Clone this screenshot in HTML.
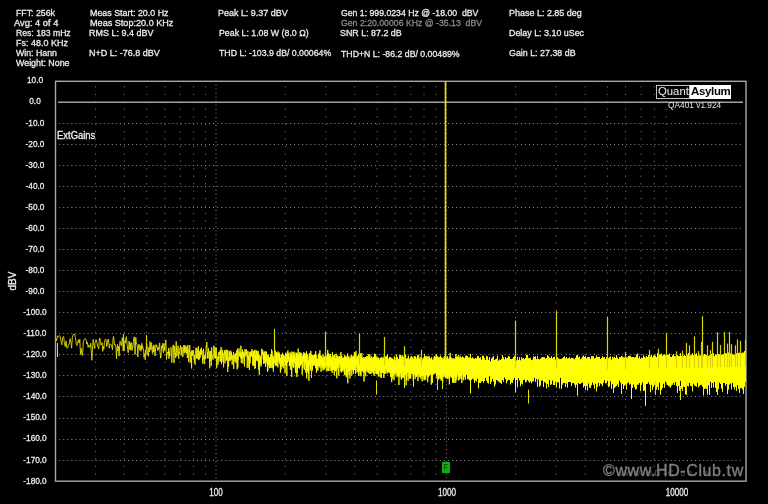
<!DOCTYPE html>
<html><head><meta charset="utf-8">
<style>
html,body{margin:0;padding:0;background:#000;}
body{width:768px;height:504px;position:relative;overflow:hidden;font-family:"Liberation Sans",Arial,sans-serif;}
.t{position:absolute;transform-origin:0 0;font-size:9.4px;line-height:10px;color:#ececec;white-space:pre;-webkit-text-stroke:0.3px #ececec;}
.g2{color:#8a8a8a;-webkit-text-stroke:0.3px #8a8a8a;}
.yl{position:absolute;font-size:9.5px;line-height:10px;color:#ececec;-webkit-text-stroke:0.3px #ececec;width:40px;text-align:center;left:15.3px;transform:scaleX(0.87);transform-origin:50% 0;white-space:pre;}
.xl{position:absolute;font-size:10px;line-height:10px;color:#ececec;-webkit-text-stroke:0.3px #ececec;width:60px;text-align:center;top:487.8px;transform:scaleX(0.81);transform-origin:50% 0;white-space:pre;}
svg{position:absolute;left:0;top:0;}
.hd{stroke:#8c8c8c;stroke-width:1;stroke-dasharray:1 3.05;}
.vd{stroke:#8c8c8c;stroke-width:1;stroke-dasharray:1 3.05;}
.vm{stroke:#6a6a6a;stroke-width:1;stroke-dasharray:1.3 6.14;}
</style></head><body>
<svg width="768" height="504" viewBox="0 0 768 504">
<g>
<line x1="59.2" y1="123.5" x2="742" y2="123.5" class="hd"/>
<line x1="59.2" y1="144.5" x2="742" y2="144.5" class="hd"/>
<line x1="59.2" y1="165.5" x2="742" y2="165.5" class="hd"/>
<line x1="59.2" y1="186.5" x2="742" y2="186.5" class="hd"/>
<line x1="59.2" y1="207.5" x2="742" y2="207.5" class="hd"/>
<line x1="59.2" y1="228.5" x2="742" y2="228.5" class="hd"/>
<line x1="59.2" y1="249.5" x2="742" y2="249.5" class="hd"/>
<line x1="59.2" y1="270.5" x2="742" y2="270.5" class="hd"/>
<line x1="59.2" y1="291.5" x2="742" y2="291.5" class="hd"/>
<line x1="59.2" y1="312.5" x2="742" y2="312.5" class="hd"/>
<line x1="59.2" y1="333.5" x2="742" y2="333.5" class="hd"/>
<line x1="59.2" y1="354.5" x2="742" y2="354.5" class="hd"/>
<line x1="59.2" y1="375.5" x2="742" y2="375.5" class="hd"/>
<line x1="59.2" y1="396.5" x2="742" y2="396.5" class="hd"/>
<line x1="59.2" y1="418.5" x2="742" y2="418.5" class="hd"/>
<line x1="59.2" y1="439.5" x2="742" y2="439.5" class="hd"/>
<line x1="59.2" y1="460.5" x2="742" y2="460.5" class="hd"/>
<line x1="95.56" y1="86.33" x2="95.56" y2="476" class="vm"/>
<line x1="124.34" y1="86.33" x2="124.34" y2="476" class="vm"/>
<line x1="146.66" y1="86.33" x2="146.66" y2="476" class="vm"/>
<line x1="164.9" y1="86.33" x2="164.9" y2="476" class="vm"/>
<line x1="180.32" y1="86.33" x2="180.32" y2="476" class="vm"/>
<line x1="193.67" y1="86.33" x2="193.67" y2="476" class="vm"/>
<line x1="205.46" y1="86.33" x2="205.46" y2="476" class="vm"/>
<line x1="216.0" y1="84.5" x2="216.0" y2="479" class="vd"/>
<line x1="285.33" y1="86.33" x2="285.33" y2="476" class="vm"/>
<line x1="325.89" y1="86.33" x2="325.89" y2="476" class="vm"/>
<line x1="354.67" y1="86.33" x2="354.67" y2="476" class="vm"/>
<line x1="376.99" y1="86.33" x2="376.99" y2="476" class="vm"/>
<line x1="395.23" y1="86.33" x2="395.23" y2="476" class="vm"/>
<line x1="410.65" y1="86.33" x2="410.65" y2="476" class="vm"/>
<line x1="424.01" y1="86.33" x2="424.01" y2="476" class="vm"/>
<line x1="435.79" y1="86.33" x2="435.79" y2="476" class="vm"/>
<line x1="446.33" y1="84.5" x2="446.33" y2="479" class="vd"/>
<line x1="515.67" y1="86.33" x2="515.67" y2="476" class="vm"/>
<line x1="556.23" y1="86.33" x2="556.23" y2="476" class="vm"/>
<line x1="585.0" y1="86.33" x2="585.0" y2="476" class="vm"/>
<line x1="607.33" y1="86.33" x2="607.33" y2="476" class="vm"/>
<line x1="625.56" y1="86.33" x2="625.56" y2="476" class="vm"/>
<line x1="640.98" y1="86.33" x2="640.98" y2="476" class="vm"/>
<line x1="654.34" y1="86.33" x2="654.34" y2="476" class="vm"/>
<line x1="666.12" y1="86.33" x2="666.12" y2="476" class="vm"/>
</g>
<rect x="55.5" y="81.3" width="690.5" height="399.9" fill="none" stroke="#a8a8a8" stroke-width="1.4"/>
<line x1="58" y1="102.3" x2="743" y2="102.3" stroke="#a0a0a0" stroke-width="1.4"/>
<defs><filter id="bl" x="-5%" y="-5%" width="110%" height="110%"><feGaussianBlur stdDeviation="0.32"/></filter></defs>
<g stroke="#e8e000" stroke-width="1" fill="none" filter="url(#bl)">
<linearGradient id="ng" gradientUnits="userSpaceOnUse" x1="55" y1="0" x2="300" y2="0"><stop offset="0" stop-color="#dcd400"/><stop offset="1" stop-color="#ffff00"/></linearGradient>
<path d="M55.7 337.6L56.6 340.7L57.5 336.0L58.4 336.8L59.3 335.5L60.2 336.5L61.0 341.3L61.9 344.8L62.7 337.7L63.6 336.4L64.4 342.8L65.2 346.7L66.1 340.9L66.9 348.3L67.7 347.8L68.5 345.0L69.3 343.9L70.1 338.6L70.9 342.3L71.6 348.2L72.4 337.1L73.2 334.6L73.9 334.4L74.7 334.0L75.4 337.6L76.2 343.3L76.9 345.5L77.7 342.2L78.4 339.8L79.1 343.1L79.8 339.2L80.5 354.4L81.2 348.4L82.0 355.0L82.6 355.5L83.3 341.3L84.0 339.6L84.7 339.1L85.4 338.5L86.1 339.7L86.7 344.1L87.4 342.3L88.1 347.4L88.7 345.1L89.4 345.7L90.0 347.4L90.7 343.1L91.3 352.2L91.9 360.3L92.6 346.1L93.2 339.4L93.8 343.2L94.4 348.5L95.0 343.4L95.7 341.2L96.3 339.8L96.9 342.3L97.5 346.2L98.1 347.0L98.7 348.8L99.3 340.0L99.8 338.0L100.4 342.3L101.0 345.2L101.6 344.4L102.2 342.6L102.7 351.3L103.3 346.5L103.9 349.2L104.4 342.6L105.0 340.3L105.5 339.0L106.1 340.3L106.6 346.7L107.2 344.9L107.7 340.8L108.2 339.0L108.8 342.8L109.3 348.1L109.8 344.4L110.4 344.3L110.9 344.3L111.4 344.9L111.9 346.9L112.5 349.9L113.0 338.9L113.5 336.4L114.0 339.6L114.5 345.1L115.0 344.3L115.5 345.4L116.0 349.4L116.5 358.8L117.0 348.3L117.5 344.3L118.0 351.2L118.5 346.5L119.0 356.1L119.4 351.4L119.9 341.4L120.4 341.6L120.9 343.7L121.3 345.5L121.8 342.8L122.3 337.5L122.7 341.3L123.2 351.1L123.7 344.4L124.1 350.8L124.6 344.3L125.0 340.7L125.5 343.1L125.9 338.3L126.4 336.7L126.8 341.1L127.3 345.6L127.7 349.7L128.2 352.6L128.6 348.1L129.1 341.1L129.5 344.6L129.9 349.5L130.4 343.4L130.8 350.1L131.2 342.4L131.6 343.3L132.1 350.5L132.5 346.8L132.9 347.4L133.3 342.5L133.7 339.1L134.2 336.8L134.6 341.5L135.0 354.5L135.4 346.5L135.8 337.5L136.2 343.6L136.6 343.4L137.0 344.4L137.4 347.0L137.8 357.0L138.2 348.3L138.6 345.9L139.0 344.2L139.4 347.3L139.8 350.2L140.2 345.5L140.6 345.8L141.0 351.2L141.4 349.4L141.8 343.2L142.1 348.9L142.5 345.9L142.9 347.8L143.3 348.7L143.7 351.4L144.0 357.4L144.4 354.1L144.8 353.8L145.2 359.9L145.5 350.0L145.9 354.5L146.3 347.3L146.6 343.8L147.0 345.3L147.4 352.6L147.7 354.5L148.1 353.4L148.4 356.4L148.8 347.3L149.2 350.0L149.5 352.0L149.9 341.5L150.2 343.0L150.6 347.4L150.9 349.9L151.3 344.3L151.6 342.7L152.0 349.7L152.3 352.2L152.7 353.5L153.0 346.5L153.4 351.9L153.7 345.0L154.0 344.8L154.4 346.3L154.7 353.2L155.1 356.0L155.4 352.9L155.7 347.8L156.1 344.6L156.4 346.6L156.7 345.3L157.1 347.4L157.4 348.2L157.7 350.5L158.0 347.2L158.4 349.0L158.7 349.6L159.0 348.8L159.3 344.7L159.7 342.9L160.0 352.0L160.3 354.3L160.6 358.1L160.9 358.1L161.3 351.3L161.6 346.9L161.9 345.6L162.2 347.0L162.5 348.3L162.8 343.3L163.1 351.6L163.5 352.8L163.8 347.7L164.1 343.4L164.4 346.7L164.7 350.6L165.0 346.8L165.3 345.5L165.6 342.4L165.9 340.0L166.2 349.1L166.5 359.4L166.8 356.4L167.1 354.2L167.4 352.9L167.7 351.9L168.0 352.7L168.3 354.4L168.6 348.2L168.9 358.7L169.2 353.5L169.5 351.8L169.8 356.2L170.0 348.6L170.3 348.3L170.6 348.3L170.9 347.3L171.2 349.1L171.5 353.6L171.8 362.6L172.1 355.5L172.3 348.0L172.6 347.6L172.9 346.5L173.2 344.9L173.5 348.5L173.7 352.5L174.0 363.1L174.3 345.9L174.6 347.2L174.9 353.2L175.1 353.9L175.4 353.0L175.7 358.0L176.0 345.4L176.2 341.3L176.5 347.9L176.8 356.2L177.0 354.2L177.3 352.3L177.6 350.5L177.9 348.8L178.1 345.7L178.4 351.6L178.7 358.7L178.9 352.4L179.2 352.6L179.5 353.6L179.7 350.8L180.0 348.4L180.2 349.3L180.5 345.5L180.8 346.0L181.0 352.2L181.3 355.4L181.5 350.0L181.8 347.2L182.1 347.0L182.3 348.6L182.6 349.7L182.8 357.0L183.1 353.9L183.3 351.0L183.6 347.7L183.8 345.0L184.1 347.6L184.3 353.2L184.6 347.4L184.8 345.0L185.1 352.7L185.3 351.4L185.6 346.6L185.8 348.2L186.1 349.2L186.3 351.9L186.6 353.6L186.8 346.4L187.1 348.9L187.3 357.9L187.6 354.6L187.8 345.0L188.0 347.5L188.3 352.7L188.5 361.7L188.8 357.6L189.0 352.5L189.2 349.6L189.5 352.3L189.7 345.1L190.0 352.9L190.2 362.8L190.4 356.5L190.7 355.9L190.9 352.0L191.1 360.6L191.4 358.0L191.6 368.4L191.8 350.6L192.1 355.8L192.3 350.5L192.5 355.7L192.8 354.5L193.0 354.1L193.2 354.0L193.5 350.2L193.7 352.5L193.9 357.6L194.2 360.3L194.4 355.2L194.6 361.9L194.8 361.1L195.1 364.8L195.3 359.4L195.5 352.9L195.7 351.0L196.0 347.6L196.2 347.7L196.4 353.3L196.6 358.4L196.9 348.3L197.1 350.5L197.3 349.8L197.5 352.8L197.7 358.9L198.0 354.5L198.2 347.7L198.4 346.3L198.6 360.1L198.8 357.8L199.0 350.7L199.3 359.4L199.5 355.4L199.7 355.9L199.9 351.7L200.1 356.4L200.3 357.5L200.6 349.1L200.8 351.1L201.0 354.8L201.2 352.6L201.4 347.7L201.6 353.7L201.8 353.0L202.0 350.2L202.2 351.5L202.5 361.1L202.7 363.6L202.9 357.1L203.1 359.4L203.3 354.0L203.5 348.9L203.7 352.1L203.9 359.0L204.1 355.0L204.3 364.1L204.5 357.4L204.7 358.4L204.9 356.2L205.1 359.3L205.4 359.3L205.6 352.1L205.8 351.3L206.0 351.2L206.2 346.8L206.4 345.3L206.6 346.8L206.8 342.1L207.0 347.5L207.2 358.2L207.4 357.0L207.6 352.5L207.8 352.0L208.0 358.6L208.2 353.2L208.4 348.3L208.6 350.8L208.8 352.2L209.0 351.3L209.1 355.8L209.3 357.7L209.5 358.3L209.7 368.3L209.9 352.5L210.1 351.4L210.3 360.9L210.5 360.3L210.7 352.2L210.9 350.8L211.1 364.3L211.3 365.9L211.5 351.5L211.7 347.3L211.9 355.2L212.0 356.4L212.2 355.2L212.4 357.3L212.6 356.9L212.8 358.1L213.0 359.8L213.2 357.8L213.4 351.0L213.6 350.0L213.7 348.3L213.9 345.6L214.1 349.0L214.3 350.9L214.5 351.9L214.7 357.9L214.9 351.0L215.1 347.4L215.2 353.8L215.4 358.7L215.6 355.2L215.8 353.5L216.0 354.1L216.2 347.6L216.3 348.9L216.5 358.6L216.7 367.8L216.9 363.7L217.1 359.8L217.2 357.4L217.4 356.4L217.6 356.6L217.8 357.6L218.0 364.8L218.1 357.6L218.3 356.1L218.5 359.5L218.7 353.7L218.9 354.8L219.0 352.1L219.2 353.9L219.4 351.7L219.6 352.9L219.7 353.2L219.9 353.8L220.1 361.8L220.3 350.2L220.5 353.6L220.6 360.7L220.8 360.1L221.0 355.1L221.1 346.9L221.3 349.7L221.5 364.1L221.7 357.2L221.8 358.9L222.0 361.8L222.2 358.7L222.4 349.9L222.5 351.7L222.7 356.5L222.9 354.0L223.0 357.9L223.2 357.4L223.4 357.4L223.6 367.4L223.7 355.8L223.9 353.6L224.1 352.7L224.2 354.2L224.4 350.2L224.6 355.1L224.7 358.0L224.9 363.3L225.1 362.5L225.2 361.4L225.4 352.8L225.6 352.0L225.7 350.4L225.9 356.1L226.1 358.9L226.2 360.6L226.4 360.4L226.6 349.6L226.7 350.2L226.9 360.3L227.1 351.1L227.2 351.1L227.4 350.4L227.6 363.3L227.7 372.0L227.9 361.3L228.0 357.8L228.2 356.9L228.4 364.9L228.5 367.0L228.7 364.4L228.8 354.1L229.0 350.6L229.2 351.1L229.3 354.5L229.5 352.6L229.6 360.7L229.8 355.7L230.0 352.9L230.1 355.5L230.3 360.7L230.4 360.0L230.6 356.4L230.8 350.7L230.9 353.2L231.1 358.9L231.2 359.6L231.4 352.3L231.5 354.1L231.7 358.9L231.9 355.7L232.0 358.9L232.2 364.7L232.3 360.9L232.5 360.5L232.6 356.2L232.8 355.5L232.9 357.0L233.1 357.3L233.3 354.7L233.4 353.1L233.6 351.9L233.7 368.9L233.9 358.6L234.0 356.6L234.2 357.3L234.3 357.6L234.5 358.8L234.6 355.1L234.8 354.2L234.9 361.0L235.1 361.7L235.2 358.9L235.4 358.2L235.5 359.2L235.7 361.2L235.8 353.1L236.0 362.9L236.1 359.5L236.3 356.4L236.4 353.0L236.6 350.7L236.7 352.6L236.9 361.6L237.0 362.3L237.2 369.4L237.3 355.4L237.5 348.6L237.6 354.6L237.8 367.6L237.9 365.2L238.1 359.3L238.2 359.9L238.4 359.0L238.5 355.3L238.7 350.1L238.8 349.2L239.0 348.8L239.1 348.4L239.2 351.0L239.4 352.3L239.5 356.0L239.7 352.9L239.8 352.5L240.0 356.7L240.1 353.9L240.3 356.4L240.4 354.5L240.5 358.2L240.7 350.3L240.8 345.7L241.0 346.3L241.1 352.8L241.3 363.0L241.4 359.8L241.5 352.5L241.7 352.1L241.8 358.3L242.0 358.9L242.1 353.5L242.2 353.5L242.4 353.8L242.5 349.6L242.7 354.7L242.8 363.2L242.9 363.7L243.1 351.6L243.2 357.6L243.4 357.7L243.5 353.9L243.6 353.8L243.8 352.1L243.9 352.1L244.1 355.9L244.2 353.1L244.3 355.2L244.5 366.5L244.6 361.5L244.7 356.9L244.9 350.8L245.0 349.2L245.2 350.9L245.3 350.4L245.4 352.1L245.6 354.1L245.7 351.4L245.8 356.7L246.0 355.8L246.1 352.3L246.2 351.0L246.4 349.1L246.5 349.4L246.7 349.8L246.8 353.7L246.9 351.5L247.1 356.6L247.2 367.9L247.3 359.9L247.5 354.6L247.6 355.8L247.7 357.9L247.9 351.2L248.0 351.0L248.1 355.0L248.3 359.4L248.4 358.3L248.5 355.8L248.7 358.1L248.8 360.0L248.9 367.7L249.1 357.8L249.2 361.5L249.3 358.5L249.4 369.9L249.6 360.6L249.7 351.9L249.8 353.6L250.0 358.1L250.1 363.4L250.2 358.6L250.4 352.7L250.5 357.4L250.6 353.0L250.7 351.8L250.9 354.5L251.0 356.5L251.1 355.4L251.3 353.3L251.4 351.1L251.5 355.4L251.7 353.5L251.8 351.2L251.9 356.4L252.0 349.1L252.2 349.3L252.3 350.8L252.4 353.5L252.5 357.9L252.7 355.9L252.8 354.4L252.9 365.9L253.1 358.0L253.2 364.8L253.3 359.9L253.4 355.6L253.6 351.1L253.7 353.7L253.8 365.5L253.9 363.0L254.1 359.4L254.2 352.9L254.3 353.6L254.4 350.3L254.6 353.8L254.7 359.3L254.8 368.9L254.9 359.9L255.1 349.8L255.2 356.2L255.3 354.7L255.4 355.5L255.5 368.0L255.7 355.3L255.8 356.7L255.9 360.5L256.0 355.8L256.2 358.2L256.3 356.1L256.4 350.4L256.5 355.6L256.7 359.9L256.8 355.8L256.9 357.6L257.0 360.8L257.1 360.4L257.3 355.3L257.4 351.9L257.5 351.4L257.6 355.0L257.7 360.6L257.9 361.2L258.0 354.9L258.1 354.1L258.2 350.9L258.3 359.4L258.5 369.6L258.6 356.6L258.7 356.1L258.8 356.9L258.9 360.4L259.1 354.5L259.2 360.1L259.3 374.8L259.4 360.1L259.5 365.4L259.7 366.6L259.8 361.1L259.9 360.3L260.0 359.0L260.1 357.4L260.2 355.7L260.4 357.1L260.5 357.6L260.6 359.2L260.7 362.9L260.8 357.8L261.0 359.4L261.1 366.4L261.2 362.6L261.3 364.2L261.4 358.2L261.5 356.0L261.7 351.1L261.8 348.7L261.9 352.7L262.0 351.9L262.1 354.9L262.2 353.1L262.3 350.5L262.5 353.9L262.6 352.9L262.7 352.0L262.8 350.2L262.9 354.5L263.0 353.9L263.1 359.2L263.3 357.3L263.4 352.5L263.5 356.7L263.6 363.8L263.7 358.6L263.8 355.6L263.9 360.2L264.1 360.8L264.2 357.8L264.3 355.6L264.4 355.9L264.5 363.0L264.6 357.5L264.7 351.4L264.8 363.3L265.0 361.3L265.1 355.0L265.2 357.9L265.3 358.3L265.4 357.9L265.5 367.0L265.6 351.8L265.7 351.4L265.9 352.5L266.0 357.5L266.1 363.4L266.2 357.8L266.3 354.7L266.4 351.8L266.5 357.8L266.6 361.1L266.7 358.6L266.9 360.6L267.0 354.5L267.1 355.6L267.2 357.9L267.3 364.8L267.4 368.8L267.5 371.8L267.6 369.1L267.7 358.7L267.8 368.8L267.9 370.5L268.1 354.4L268.2 358.4L268.3 364.2L268.4 355.3L268.5 360.1L268.6 357.7L268.7 365.6L268.8 360.5L268.9 358.0L269.0 358.3L269.1 358.6L269.2 359.6L269.4 364.4L269.5 357.5L269.6 360.8L269.7 368.1L269.8 363.9L269.9 358.7L270.0 357.3L270.1 359.0L270.2 364.3L270.3 360.4L270.4 360.3L270.5 354.7L270.6 357.5L270.7 367.8L270.8 360.5L271.0 357.8L271.1 367.7L271.2 355.1L271.3 354.2L271.4 358.2L271.5 350.5L271.6 349.1L271.7 352.7L271.8 357.8L271.9 358.1L272.0 351.0L272.1 353.6L272.2 358.2L272.3 368.3L272.4 358.7L272.5 365.2L272.6 357.3L272.7 359.3L272.8 359.5L272.9 356.1L273.0 361.7L273.1 360.1L273.3 358.0L273.4 371.6L273.5 359.3L273.6 360.2L273.7 366.9L273.8 364.2L273.9 357.4L274.0 357.1L274.1 358.0L274.2 355.6L274.3 355.1L274.4 363.3L274.5 358.2L274.6 356.7L274.7 356.8L274.8 360.1L274.9 359.7L275.0 357.8L275.1 359.9L275.2 358.8L275.3 350.5L275.4 356.4L275.5 363.1L275.6 365.6L275.7 361.0L275.8 358.2L275.9 355.2L276.0 358.4L276.1 365.3L276.2 362.0L276.3 354.2L276.4 353.3L276.5 358.7L276.6 352.3L276.7 352.1L276.8 357.6L276.9 365.9L277.0 361.1L277.1 359.8L277.2 357.4L277.3 358.5L277.4 353.2L277.5 354.3L277.6 352.8L277.7 355.5L277.8 364.1L277.9 367.4L278.0 357.1L278.1 351.4L278.2 352.5L278.3 359.2L278.4 355.7L278.5 356.7L278.6 357.2L278.7 357.1L278.8 360.0L278.9 361.7L279.0 358.1L279.1 357.7L279.2 354.3L279.3 352.6L279.4 360.7L279.5 363.6L279.6 359.6L279.7 354.0L279.8 363.0L279.8 360.9L279.9 358.4L280.0 360.5L280.1 363.7L280.2 365.5L280.3 365.7L280.4 372.7L280.5 365.3L280.6 361.0L280.7 358.2L280.8 359.6L280.9 357.7L281.0 370.1L281.1 364.8L281.2 360.6L281.3 354.4L281.4 359.1L281.5 361.8L281.6 359.2L281.7 361.3L281.8 355.2L281.9 358.8L282.0 366.7L282.1 362.0L282.1 359.5L282.2 361.6L282.3 365.8L282.4 358.0L282.5 352.8L282.6 359.8L282.7 363.3L282.8 360.3L282.9 354.6L283.0 356.6L283.1 355.9L283.2 356.4L283.3 368.3L283.4 365.6L283.5 356.8L283.6 354.7L283.6 355.5L283.7 361.4L283.8 358.9L283.9 357.3L284.0 358.4L284.1 358.8L284.2 355.7L284.3 356.8L284.4 361.4L284.5 360.1L284.6 361.5L284.7 361.6L284.8 359.1L284.8 356.9L284.9 364.5L285.0 373.3L285.1 363.6L285.2 365.7L285.3 365.3L285.4 360.4L285.5 362.9L285.6 357.3L285.7 352.8L285.8 356.0L285.9 364.8L285.9 356.4L286.0 354.4L286.1 356.0L286.2 354.8L286.3 356.6L286.4 366.0L286.5 364.8L286.6 361.0L286.7 363.6L286.8 370.6L286.9 375.8L286.9 361.2L287.0 360.0L287.1 359.2L287.2 358.0L287.3 351.8L287.4 352.3L287.5 362.8L287.6 362.2L287.7 359.9L287.8 361.2L287.8 351.2L287.9 350.5L288.0 354.5L288.1 354.7L288.2 359.2L288.3 353.5L288.4 353.4L288.5 356.6L288.6 359.1L288.6 355.5L288.7 358.0L288.8 359.6L288.9 361.4L289.0 358.7L289.1 358.5L289.2 358.4L289.3 359.6L289.3 366.0L289.4 363.9L289.5 360.6L289.6 358.6L289.7 357.2L289.8 359.0L289.9 365.8L290.0 358.5L290.0 352.3L290.1 354.0L290.2 357.7L290.3 367.9L290.4 369.7L290.5 363.7L290.6 353.9L290.7 363.4L290.7 359.6L290.8 360.9L290.9 356.8L291.0 353.5L291.1 357.1L291.2 358.2L291.3 363.6L291.4 359.1L291.4 355.9L291.5 358.7L291.6 365.6L291.7 376.9L291.8 361.5L291.9 351.5L292.0 353.2L292.0 357.7L292.1 359.9L292.2 361.3L292.3 360.1L292.4 358.1L292.5 359.6L292.6 361.7L292.6 360.3L292.7 356.8L292.8 358.8L292.9 366.5L293.0 357.7L293.1 355.2L293.1 352.2L293.2 354.6L293.3 367.5L293.4 360.8L293.5 364.1L293.6 356.6L293.7 354.1L293.7 365.1L293.8 367.6L293.9 355.3L294.0 351.7L294.1 354.6L294.2 355.8L294.2 356.9L294.3 359.2L294.4 359.9L294.5 362.6L294.6 354.8L294.7 360.2L294.7 358.9L294.8 359.4L294.9 361.6L295.0 359.3L295.1 357.4L295.2 360.2L295.2 364.2L295.3 365.8L295.4 370.5L295.5 362.3L295.6 372.9L295.7 361.3L295.7 364.9L295.8 359.6L295.9 364.5L296.0 361.7L296.1 352.5L296.2 360.8L296.2 357.7L296.3 353.1L296.4 360.3L296.5 365.4L296.6 366.8L296.6 361.9L296.7 354.2L296.8 363.9L296.9 376.9L297.0 366.3L297.1 359.5L297.1 368.5L297.2 372.6L297.3 369.7L297.4 369.2L297.5 359.4L297.5 373.1L297.6 361.2L297.7 353.4L297.8 358.3L297.9 364.9L297.9 360.8L298.0 354.7L298.1 351.5L298.2 348.6L298.3 353.2L298.3 359.8L298.4 363.5L298.5 363.7L298.6 356.9L298.7 367.7L298.7 363.7L298.8 355.5L298.9 360.4L299.0 363.8L299.1 358.6L299.1 361.7L299.2 360.5L299.3 366.1L299.4 368.3L299.5 368.5L299.5 360.4L299.6 357.0L299.7 363.4L299.8 354.4L299.9 352.2L299.9 356.9L300.0 353.0L300.1 365.6L300.2 357.9L300.3 353.5L300.3 360.6L300.4 358.8L300.5 357.6L300.6 365.6L300.7 363.7L300.7 357.7L300.8 359.8L300.9 357.3L301.0 357.1L301.0 357.1L301.1 362.7L301.2 354.9L301.3 353.9L301.4 352.9L301.4 355.7L301.5 362.2L301.6 363.0L301.7 363.7L301.7 362.7L301.8 361.5L301.9 363.7L302.0 361.3L302.1 362.5L302.1 363.1L302.2 374.6L302.3 364.1L302.4 363.8L302.4 359.2L302.5 359.4L302.6 355.5L302.7 356.8L302.7 357.8L302.8 360.1L302.9 367.7L303.0 366.1L303.1 361.5L303.1 358.8L303.2 358.4L303.3 357.8L303.4 361.2L303.4 356.7L303.5 357.1L303.6 357.0L303.7 359.1L303.7 353.0L303.8 352.2L303.9 357.0L304.0 358.4L304.0 354.2L304.1 355.6L304.2 361.1L304.3 369.9L304.4 363.7L304.4 359.8L304.5 353.4L304.6 357.2L304.7 357.1L304.7 360.2L304.8 363.8L304.9 357.8L305.0 361.6L305.0 361.5L305.1 356.2L305.2 353.2L305.3 356.2L305.3 357.0L305.4 355.7L305.5 358.3L305.6 359.0L305.6 360.4L305.7 359.6L305.8 356.2L305.9 356.7L305.9 372.7L306.0 361.4L306.1 365.0L306.2 358.1L306.2 354.9L306.3 356.9L306.4 356.4L306.5 351.3L306.5 351.4L306.6 361.2L306.7 378.5L306.7 364.3L306.8 365.0L306.9 366.4L307.0 372.2L307.0 366.9L307.1 361.9L307.2 356.4L307.3 362.2L307.3 366.6L307.4 362.0L307.5 362.9L307.6 370.9L307.6 364.8L307.7 360.5L307.8 354.0L307.9 360.2L307.9 363.3L308.0 363.8L308.1 364.9L308.1 365.4L308.2 360.2L308.3 361.7L308.4 364.4L308.4 373.4L308.5 362.1L308.6 362.9L308.7 365.6L308.7 360.4L308.8 365.7L308.9 370.0L308.9 380.9L309.0 368.5L309.1 362.8L309.2 358.8L309.2 356.7L309.3 358.1L309.4 362.3L309.4 362.9L309.5 357.9L309.6 353.6L309.7 352.9L309.7 360.1L309.8 364.8L309.9 362.9L309.9 365.7L310.0 362.9L310.1 365.8L310.2 364.5L310.2 356.2L310.3 358.0L310.4 370.3L310.4 356.7L310.5 356.9L310.6 360.5L310.7 363.5L310.7 365.4L310.8 350.9L310.9 353.3L310.9 367.5L311.0 360.5L311.1 362.4L311.2 365.0L311.2 363.0L311.3 354.1L311.4 360.0L311.4 369.7L311.5 367.8L311.6 360.3L311.7 357.6L311.7 356.3L311.8 370.6L311.9 365.3L311.9 371.1L312.0 368.0L312.1 356.1L312.1 355.6L312.2 355.3L312.3 355.2L312.4 360.4L312.4 368.1L312.5 369.1L312.6 361.2L312.6 356.5L312.7 354.9L312.8 359.8L312.8 364.2L312.9 361.3L313.0 361.8L313.1 359.7L313.1 355.4L313.2 358.9L313.3 364.5L313.3 365.7L313.4 355.4L313.5 355.5L313.5 362.3L313.6 359.3L313.7 359.0L313.7 362.6L313.8 357.8L313.9 363.8L313.9 357.6L314.0 359.3L314.1 362.7L314.2 356.3L314.2 361.5L314.3 364.3L314.4 361.2L314.4 355.1L314.5 355.2L314.6 356.0L314.6 356.5L314.7 354.7L314.8 354.1L314.8 356.1L314.9 357.4L315.0 366.0L315.0 364.5L315.1 361.0L315.2 355.1L315.2 357.1L315.3 362.8L315.4 366.3L315.5 366.4L315.5 368.2L315.6 366.6L315.7 360.6L315.7 351.2L315.8 353.8L315.9 358.2L315.9 361.1L316.0 357.7L316.1 355.1L316.1 359.7L316.2 367.9L316.3 360.2L316.3 360.8L316.4 372.7L316.5 366.8L316.5 361.6L316.6 369.1L316.7 360.4L316.7 358.2L316.8 367.6L316.9 363.2L316.9 370.3L317.0 359.1L317.1 359.2L317.1 366.0L317.2 362.1L317.3 363.2L317.3 363.8L317.4 363.1L317.5 360.8L317.5 363.5L317.6 363.6L317.7 361.8L317.7 363.5L317.8 359.5L317.9 359.7L317.9 370.5L318.0 363.9L318.1 360.4L318.1 364.2L318.2 362.5L318.3 354.7L318.3 358.9L318.4 360.6L318.5 357.2L318.5 355.7L318.6 362.8L318.7 365.8L318.7 358.9L318.8 363.4L318.8 365.8L318.9 360.3L319.0 359.0L319.0 366.8L319.1 357.9L319.2 353.2L319.2 358.8L319.3 358.2L319.4 358.2L319.4 362.3L319.5 359.9L319.6 355.1L319.6 356.7L319.7 365.5L319.8 360.9L319.8 360.1L319.9 350.4L320.0 353.3L320.0 365.0L320.1 368.2L320.2 356.7L320.2 362.7L320.3 363.9L320.3 356.5L320.4 355.9L320.5 361.7L320.5 362.4L320.6 361.8L320.7 360.6L320.7 357.3L320.8 357.0L320.9 358.4L320.9 359.5L321.0 362.2L321.1 371.7L321.1 371.5L321.2 358.8L321.2 355.5L321.3 355.9L321.4 357.0L321.4 358.2L321.5 363.6L321.6 360.1L321.6 363.3L321.7 362.8L321.8 359.8L321.8 360.9L321.9 364.7L321.9 363.5L322.0 359.8L322.1 363.7L322.1 367.0L322.2 362.5L322.3 360.6L322.3 362.4L322.4 357.4L322.5 363.8L322.5 364.2L322.6 365.7L322.6 360.6L322.7 362.1L322.8 361.8L322.8 360.4L322.9 366.0L323.0 370.5L323.0 361.6L323.1 354.5L323.1 358.3L323.2 368.1L323.3 362.7L323.3 365.1L323.4 359.4L323.5 362.2L323.5 361.2L323.6 357.4L323.6 359.9L323.7 364.4L323.8 366.2L323.8 365.9L323.9 366.8L324.0 362.5L324.0 363.7L324.1 364.7L324.1 359.7L324.2 364.2L324.3 369.5L324.3 361.8L324.4 365.2L324.5 363.7L324.5 360.1L324.6 362.3L324.6 356.9L324.7 357.8L324.8 365.4L324.8 363.4L324.9 356.3L324.9 356.5L325.0 364.5L325.1 363.5L325.1 368.4L325.2 361.0L325.3 356.5L325.3 360.5L325.4 359.5L325.4 352.6L325.5 354.9L325.6 362.0L325.6 360.2L325.7 364.4L325.7 361.3L325.8 355.3L325.9 359.1L325.9 362.0L326.0 358.6L326.1 360.2L326.1 357.1L326.2 356.0L326.2 363.8L326.3 363.6L326.4 366.7L326.4 362.9L326.5 360.3L326.5 358.0L326.6 356.8L326.7 358.0L326.7 363.8L326.8 371.5L326.8 370.7L326.9 358.4L327.0 359.8L327.0 357.1L327.1 356.2L327.1 362.0L327.2 361.7L327.3 359.3L327.3 365.7L327.4 354.2L327.4 353.6L327.5 354.2L327.6 356.6L327.6 361.5L327.7 355.3L327.7 349.9L327.8 356.6L327.9 354.0L327.9 355.5L328.0 362.8L328.0 370.3L328.1 365.7L328.2 355.2L328.2 353.1L328.3 360.6L328.3 371.0L328.4 369.0L328.5 366.6L328.5 368.5L328.6 359.7L328.6 356.2L328.7 356.6L328.8 360.6L328.8 363.0L328.9 361.1L328.9 359.4L329.0 361.9L329.1 355.9L329.1 354.1L329.2 367.0L329.2 364.7L329.3 356.6L329.3 359.1L329.4 364.0L329.5 362.8L329.5 356.0L329.6 357.8L329.6 366.6L329.7 362.0L329.8 364.1L329.8 364.9L329.9 367.4L329.9 358.5L330.0 362.2L330.1 359.8L330.1 371.0L330.2 364.2L330.2 361.1L330.3 360.5L330.3 354.7L330.4 353.9L330.5 355.8L330.5 362.7L330.6 363.9L330.6 356.7L330.7 362.5L330.8 361.2L330.8 355.7L330.9 362.4L330.9 364.3L331.0 358.9L331.0 360.7L331.1 358.9L331.2 358.6L331.2 360.0L331.3 358.2L331.3 367.8L331.4 364.5L331.5 370.3L331.5 368.1L331.6 363.8L331.6 363.7L331.7 365.8L331.7 363.7L331.8 364.2L331.9 357.8L331.9 361.2L332.0 364.5L332.0 365.8L332.1 372.8L332.1 361.2L332.2 369.8L332.3 361.5L332.3 363.1L332.4 366.1L332.4 360.8L332.5 352.3L332.5 355.1L332.6 359.0L332.7 359.8L332.7 361.0L332.8 362.5L332.8 361.8L332.9 357.3L332.9 357.5L333.0 362.5L333.1 364.4L333.1 364.6L333.2 370.1L333.2 366.3L333.3 361.8L333.3 365.3L333.4 368.9L333.5 367.1L333.5 363.6L333.6 364.1L333.6 363.2L333.7 366.5L333.7 364.5L333.8 360.7L333.8 355.4L333.9 356.3L334.0 357.5L334.0 359.9L334.1 358.6L334.1 358.4L334.2 362.8L334.2 369.3L334.3 375.2L334.4 365.7L334.4 357.5L334.5 366.4L334.5 366.1L334.6 360.6L334.6 362.4L334.7 357.9L334.7 354.5L334.8 359.5L334.9 370.1L334.9 360.8L335.0 360.7L335.0 365.7L335.1 369.0L335.1 362.6L335.2 361.2L335.2 364.1L335.3 364.5L335.4 358.5L335.4 361.2L335.5 360.3L335.5 371.3L335.6 367.3L335.6 360.1L335.7 358.4L335.7 366.7L335.8 361.8L335.9 367.2L335.9 362.6L336.0 365.0L336.0 365.6L336.1 360.3L336.1 358.3L336.2 353.7L336.2 363.2L336.3 367.3L336.4 364.8L336.4 368.2L336.5 367.0L336.5 361.4L336.6 361.5L336.6 363.2L336.7 366.8L336.7 371.9L336.8 378.3L336.8 377.7L336.9 361.2L337.0 360.0L337.0 369.6L337.1 357.7L337.1 362.3L337.2 366.0L337.2 357.1L337.3 357.3L337.3 355.6L337.4 355.5L337.4 362.9L337.5 364.0L337.6 357.7L337.6 361.9L337.7 362.1L337.7 363.7L337.8 364.7L337.8 358.6L337.9 367.7L337.9 365.4L338.0 356.6L338.0 358.9L338.1 361.8L338.2 363.9L338.2 363.0L338.3 359.8L338.3 367.8L338.4 358.1L338.4 359.1L338.5 363.5L338.5 363.1L338.6 362.7L338.6 360.5L338.7 370.9L338.7 370.0L338.8 375.6L338.9 364.2L338.9 360.5L339.0 362.8L339.0 356.6L339.1 357.3L339.1 359.2L339.2 361.4L339.2 363.7L339.3 360.1L339.3 358.7L339.4 357.7L339.4 358.1L339.5 356.9L339.5 356.1L339.6 356.4L339.7 360.3L339.7 357.0L339.8 357.1L339.8 358.0L339.9 358.6L339.9 361.7L340.0 365.1L340.0 367.6L340.1 367.1L340.1 365.7L340.2 360.1L340.2 364.1L340.3 362.8L340.3 363.7L340.4 359.0L340.4 359.8L340.5 364.6L340.6 363.4L340.6 363.8L340.7 365.3L340.7 364.7L340.8 361.4L340.8 357.4L340.9 352.0L340.9 352.3L341.0 364.6L341.0 370.5L341.1 370.8L341.1 363.1L341.2 363.8L341.2 371.9L341.3 359.0L341.3 357.3L341.4 361.6L341.4 372.4L341.5 369.9L341.6 369.6L341.6 361.9L341.7 364.8L341.7 362.1L341.8 367.8L341.8 360.0L341.9 355.7L341.9 359.3L342.0 358.6L342.0 361.8L342.1 358.5L342.1 366.2L342.2 363.6L342.2 369.9L342.3 367.0L342.3 364.0L342.4 367.9L342.4 371.3L342.5 364.3L342.5 359.9L342.6 363.5L342.6 361.6L342.7 360.2L342.7 361.6L342.8 358.1L342.8 363.9L342.9 361.8L342.9 359.2L343.0 368.1L343.1 360.1L343.1 360.9L343.2 358.2L343.2 361.3L343.3 368.9L343.3 368.1L343.4 366.0L343.4 364.9L343.5 358.4L343.5 360.2L343.6 366.6L343.6 369.7L343.7 364.0L343.7 366.3L343.8 360.6L343.8 357.5L343.9 361.1L343.9 369.6L344.0 369.3L344.0 362.9L344.1 363.4L344.1 362.7L344.2 372.1L344.2 368.3L344.3 367.8L344.3 365.3L344.4 367.7L344.4 374.6L344.5 366.7L344.5 362.7L344.6 360.1L344.6 355.2L344.7 354.8L344.7 361.4L344.8 360.8L344.8 358.2L344.9 358.6L344.9 360.1L345.0 367.8L345.0 375.3L345.1 365.6L345.1 360.3L345.2 365.5L345.2 357.0L345.3 357.6L345.3 367.1L345.4 361.2L345.4 360.5L345.5 356.6L345.5 357.5L345.6 357.0L345.6 366.1L345.7 368.5L345.7 359.8L345.8 356.9L345.8 358.5L345.9 363.8L345.9 358.5L346.0 357.7L346.0 357.6L346.1 366.0L346.1 361.5L346.2 362.3L346.2 367.6L346.3 377.3L346.3 377.3L346.4 369.5L346.4 359.4L346.5 357.9L346.5 365.9L346.6 367.1L346.6 363.3L346.7 374.6L346.7 364.0L346.8 370.0L346.8 364.1L346.9 361.7L346.9 362.6L347.0 357.5L347.0 356.1L347.1 359.5L347.1 361.2L347.2 361.5L347.2 368.8L347.3 364.2L347.3 368.0L347.4 367.0L347.4 360.3L347.5 364.7L347.5 366.8L347.6 363.4L347.6 356.4L347.7 353.6L347.7 363.1L347.8 383.3L347.8 362.8L347.9 361.1L347.9 367.4L348.0 364.9L348.0 361.4L348.1 360.6L348.1 364.3L348.2 363.5L348.2 368.2L348.3 371.9L348.3 361.7L348.4 365.6L348.4 358.2L348.5 367.2L348.5 364.9L348.6 362.5L348.6 364.1L348.7 361.6L348.7 363.8L348.8 361.1L348.8 357.8L348.8 356.3L348.9 356.3L348.9 357.4L349.0 362.9L349.0 357.5L349.1 362.8L349.1 375.1L349.2 372.0L349.2 359.4L349.3 359.6L349.3 365.6L349.4 366.9L349.4 367.9L349.5 365.6L349.5 361.8L349.6 360.6L349.6 361.3L349.7 363.7L349.7 359.3L349.8 364.2L349.8 365.2L349.9 363.6L349.9 368.9L350.0 378.4L350.0 363.4L350.1 365.9L350.1 366.3L350.1 370.5L350.2 367.6L350.2 367.9L350.3 367.6L350.3 367.3L350.4 363.8L350.4 369.8L350.5 367.7L350.5 363.8L350.6 362.7L350.6 359.2L350.7 361.8L350.7 363.4L350.8 365.7L350.8 364.3L350.9 360.3L350.9 368.8L351.0 369.4L351.0 360.5L351.1 356.9L351.1 360.3L351.2 360.2L351.2 355.0L351.2 358.8L351.3 364.4L351.3 358.1L351.4 359.5L351.4 360.6L351.5 365.2L351.5 362.5L351.6 364.9L351.6 367.5L351.7 366.8L351.7 365.1L351.8 375.4L351.8 366.9L351.9 367.5L351.9 360.7L352.0 355.6L352.0 362.5L352.0 364.8L352.1 363.5L352.1 365.6L352.2 364.3L352.2 365.8L352.3 363.2L352.3 361.8L352.4 363.6L352.4 368.8L352.5 361.6L352.5 357.4L352.6 357.5L352.6 361.6L352.7 358.2L352.7 364.0L352.8 369.7L352.8 367.1L352.8 369.6L352.9 366.9L352.9 368.0L353.0 366.1L353.0 361.1L353.1 357.6L353.1 370.4L353.2 368.0L353.2 360.5L353.3 364.8L353.3 367.8L353.4 361.7L353.4 358.6L353.4 363.2L353.5 372.6L353.5 373.4L353.6 373.8L353.6 363.9L353.7 366.3L353.7 367.7L353.8 356.6L353.8 361.9L353.9 361.7L353.9 357.4L354.0 358.8L354.0 356.2L354.0 355.7L354.1 359.9L354.1 361.5L354.2 357.6L354.2 360.1L354.3 365.7L354.3 354.0L354.4 352.1L354.4 359.4L354.5 361.6L354.5 362.0L354.6 369.7L354.6 368.5L354.6 369.5L354.7 365.2L354.7 363.7L354.8 359.5L354.8 361.7L354.9 364.6L354.9 359.2L355.0 352.9L355.0 363.9L355.1 366.1L355.1 359.3L355.1 361.9L355.2 364.2L355.2 362.5L355.3 368.2L355.3 363.9L355.4 357.5L355.4 359.3L355.5 361.9L355.5 366.0L355.6 373.9L355.6 373.9L355.6 363.4L355.7 366.4L355.7 372.7L355.8 368.1L355.8 357.3L355.9 359.9L355.9 354.1L356.0 351.0L356.0 359.0L356.1 359.6L356.1 364.9L356.1 362.8L356.2 364.0L356.2 361.4L356.3 360.1L356.3 359.6L356.4 363.0L356.4 358.9L356.5 360.6L356.5 363.6L356.6 365.3L356.6 360.2L356.6 363.8L356.7 363.9L356.7 360.7L356.8 362.3L356.8 360.6L356.9 364.0L356.9 360.8L357.0 364.5L357.0 365.0L357.0 361.1L357.1 365.3L357.1 367.8L357.2 363.0L357.2 356.6L357.3 372.3L357.3 361.9L357.4 364.1L357.4 358.4L357.4 356.2L357.5 356.3L357.5 356.1L357.6 359.8L357.6 358.9L357.7 358.0L357.7 364.0L357.8 363.6L357.8 361.7L357.8 364.1L357.9 360.3L357.9 362.2L358.0 361.7L358.0 358.3L358.1 364.4L358.1 372.1L358.2 364.1L358.2 365.0L358.2 362.0L358.3 355.5L358.3 360.8L358.4 361.7L358.4 366.4L358.5 360.7L358.5 357.8L358.6 363.6L358.6 375.8L358.6 367.4L358.7 365.3L358.7 371.6L358.8 366.4L358.8 363.1L358.9 366.7L358.9 365.5L358.9 366.0L359.0 371.6L359.0 354.0L359.1 355.4L359.1 367.4L359.2 353.6L359.2 353.8L359.3 358.3L359.3 358.8L359.3 362.4L359.4 362.8L359.4 369.8L359.5 370.4L359.5 361.2L359.6 355.9L359.6 362.1L359.6 369.5L359.7 359.6L359.7 357.0L359.8 366.6L359.8 370.0L359.9 366.2L359.9 364.2L360.0 358.9L360.0 358.6L360.0 359.3L360.1 356.4L360.1 361.8L360.2 375.1L360.2 359.5L360.3 365.4L360.3 372.1L360.3 371.6L360.4 368.7L360.4 367.9L360.5 362.3L360.5 358.7L360.6 360.6L360.6 357.3L360.6 353.4L360.7 358.8L360.7 361.1L360.8 360.6L360.8 363.8L360.9 363.9L360.9 363.4L360.9 363.1L361.0 363.7L361.0 376.3L361.1 370.3L361.1 366.0L361.2 361.7L361.2 360.1L361.2 366.9L361.3 365.5L361.3 356.8L361.4 356.7L361.4 358.2L361.5 365.1L361.5 370.6L361.5 366.8L361.6 363.4L361.6 359.9L361.7 367.0L361.7 359.5L361.8 355.2L361.8 354.4L361.8 353.1L361.9 356.3L361.9 362.2L362.0 367.9L362.0 368.8L362.1 360.8L362.1 359.7L362.1 359.8L362.2 364.0L362.2 361.7L362.3 360.6L362.3 359.2L362.4 360.0L362.4 366.1L362.4 366.8L362.5 364.1L362.5 360.7L362.6 363.8L362.6 367.1L362.7 368.1L362.7 369.9L362.7 361.0L362.8 362.2L362.8 371.7L362.9 364.5L362.9 357.9L362.9 358.2L363.0 369.7L363.0 365.5L363.1 365.4L363.1 362.1L363.2 357.8L363.2 358.2L363.2 363.1L363.3 367.7L363.3 371.1L363.4 365.0L363.4 358.5L363.5 364.0L363.5 372.3L363.5 364.1L363.6 362.8L363.6 360.0L363.7 357.3L363.7 360.9L363.7 368.4L363.8 372.4L363.8 371.4L363.9 363.4L363.9 359.8L364.0 362.8L364.0 368.8L364.0 381.5L364.1 363.9L364.1 358.2L364.2 360.4L364.2 368.6L364.2 368.6L364.3 359.3L364.3 360.0L364.4 362.3L364.4 365.8L364.5 361.4L364.5 362.4L364.5 358.8L364.6 362.1L364.6 358.4L364.7 361.0L364.7 369.5L364.7 367.2L364.8 365.3L364.8 361.4L364.9 369.0L364.9 368.9L365.0 362.7L365.0 363.2L365.0 367.3L365.1 362.4L365.1 372.5L365.2 367.7L365.2 361.0L365.2 356.9L365.3 363.4L365.3 366.9L365.4 366.2L365.4 367.6L365.4 364.3L365.5 366.7L365.5 359.0L365.6 362.5L365.6 368.1L365.7 369.1L365.7 376.3L365.7 363.2L365.8 365.6L365.8 369.4L365.9 364.1L365.9 362.2L365.9 369.5L366.0 370.3L366.0 362.8L366.1 360.6L366.1 367.2L366.1 368.1L366.2 367.6L366.2 362.9L366.3 363.6L366.3 360.8L366.3 358.8L366.4 357.6L366.4 366.5L366.5 370.3L366.5 366.9L366.6 361.6L366.6 367.0L366.6 362.8L366.7 366.6L366.7 363.0L366.8 364.6L366.8 357.3L366.8 356.2L366.9 356.0L366.9 356.3L367.0 361.8L367.0 359.6L367.0 367.6L367.1 368.4L367.1 365.7L367.2 366.6L367.2 356.2L367.2 360.1L367.3 371.8L367.3 367.5L367.4 367.1L367.4 364.7L367.4 361.9L367.5 363.3L367.5 363.4L367.6 366.4L367.6 368.4L367.6 366.5L367.7 366.1L367.7 365.8L367.8 359.5L367.8 360.3L367.8 364.5L367.9 362.5L367.9 364.8L368.0 367.8L368.0 364.3L368.0 363.5L368.1 367.0L368.1 360.5L368.2 362.1L368.2 371.7L368.2 370.5L368.3 373.2L368.3 373.2L368.4 373.1L368.4 370.6L368.4 366.8L368.5 360.3L368.5 357.9L368.6 360.8L368.6 366.8L368.6 365.7L368.7 369.5L368.7 364.6L368.8 360.9L368.8 354.7L368.8 354.0L368.9 359.6L368.9 365.4L369.0 364.9L369.0 359.2L369.0 358.6L369.1 361.0L369.1 359.0L369.2 358.3L369.2 355.6L369.2 357.8L369.3 369.5L369.3 364.3L369.4 359.7L369.4 365.6L369.4 360.5L369.5 357.9L369.5 359.2L369.6 361.5L369.6 369.7L369.6 369.0L369.7 360.0L369.7 365.0L369.8 373.9L369.8 363.8L369.8 354.6L369.9 357.3L369.9 361.9L369.9 362.5L370.0 362.1L370.0 362.2L370.1 358.9L370.1 361.7L370.1 368.4L370.2 360.0L370.2 360.4L370.3 370.4L370.3 362.8L370.3 361.9L370.4 369.4L370.4 368.9L370.5 363.2L370.5 364.6L370.5 365.0L370.6 367.3L370.6 368.3L370.7 365.2L370.7 363.8L370.7 361.3L370.8 357.7L370.8 359.9L370.8 362.6L370.9 367.1L370.9 374.0L371.0 362.1L371.0 360.8L371.0 368.7L371.1 368.5L371.1 360.2L371.2 358.0L371.2 360.6L371.2 361.4L371.3 365.7L371.3 362.1L371.4 358.7L371.4 361.3L371.4 368.2L371.5 363.7L371.5 357.6L371.5 356.4L371.6 363.0L371.6 361.8L371.7 360.3L371.7 366.2L371.7 364.0L371.8 373.1L371.8 370.8L371.9 370.1L371.9 368.3L371.9 364.7L372.0 359.4L372.0 357.7L372.0 369.4L372.1 367.9L372.1 372.3L372.2 368.5L372.2 368.3L372.2 361.0L372.3 364.2L372.3 369.3L372.4 369.5L372.4 367.4L372.4 361.4L372.5 367.6L372.5 369.9L372.5 363.3L372.6 357.7L372.6 360.1L372.7 363.8L372.7 361.9L372.7 365.3L372.8 365.5L372.8 370.5L372.9 364.6L372.9 362.9L372.9 365.6L373.0 364.7L373.0 360.0L373.0 358.1L373.1 360.4L373.1 359.8L373.2 363.2L373.2 367.5L373.2 371.4L373.3 362.8L373.3 359.9L373.3 362.1L373.4 365.1L373.4 365.6L373.5 365.4L373.5 372.0L373.5 371.4L373.6 374.1L373.6 367.2L373.7 368.6L373.7 362.5L373.7 356.9L373.8 359.0L373.8 364.3L373.8 369.2L373.9 366.8L373.9 363.7L374.0 359.4L374.0 367.6L374.0 370.5L374.1 369.5L374.1 375.8L374.1 368.7L374.2 365.3L374.2 366.6L374.3 362.9L374.3 359.2L374.3 363.9L374.4 363.3L374.4 371.0L374.4 362.7L374.5 358.8L374.5 353.7L374.6 359.3L374.6 367.5L374.6 368.2L374.7 366.8L374.7 356.8L374.7 358.0L374.8 364.1L374.8 363.3L374.9 365.0L374.9 363.0L374.9 363.1L375.0 366.7L375.0 362.4L375.0 358.3L375.1 359.5L375.1 360.6L375.2 361.0L375.2 356.2L375.2 357.3L375.3 358.7L375.3 354.1L375.3 355.3L375.4 361.8L375.4 362.8L375.5 365.4L375.5 367.2L375.5 364.8L375.6 358.6L375.6 359.6L375.6 359.1L375.7 362.0L375.7 357.3L375.8 361.4L375.8 365.4L375.8 373.8L375.9 368.9L375.9 369.9L375.9 363.7L376.0 360.9L376.0 362.2L376.0 360.0L376.1 366.1L376.1 366.4L376.2 364.9L376.2 362.2L376.2 369.2L376.3 367.4L376.3 358.5L376.3 361.9L376.4 373.2L376.4 359.2L376.5 363.1L376.5 361.8L376.5 360.1L376.6 374.2L376.6 367.0L376.6 362.0L376.7 362.7L376.7 365.2L376.7 368.2L376.8 365.3L376.8 365.8L376.9 356.4L376.9 356.3L376.9 359.3L377.0 362.4L377.0 361.7L377.0 360.4L377.1 366.4L377.1 371.3L377.2 369.4L377.2 372.2L377.2 371.0L377.3 367.3L377.3 373.9L377.3 368.2L377.4 365.4L377.4 365.1L377.4 364.3L377.5 363.4L377.5 360.1L377.6 357.9L377.6 360.0L377.6 361.8L377.7 369.2L377.7 372.9L377.7 365.2L377.8 362.3L377.8 360.9L377.8 369.5L377.9 366.9L377.9 366.3L378.0 368.8L378.0 366.2L378.0 366.2L378.1 367.5L378.1 362.9L378.1 360.5L378.2 368.0L378.2 361.8L378.2 357.6L378.3 365.9L378.3 376.4L378.4 366.5L378.4 365.2L378.4 371.5L378.5 365.8L378.5 362.4L378.5 373.1L378.6 367.1L378.6 370.2L378.6 367.3L378.7 371.1L378.7 361.2L378.7 363.9L378.8 365.9L378.8 358.3L378.9 362.9L378.9 362.9L378.9 363.4L379.0 363.3L379.0 366.6L379.0 362.3L379.1 360.6L379.1 362.0L379.1 363.7L379.2 361.3L379.2 360.2L379.2 365.3L379.3 370.2L379.3 367.8L379.4 365.6L379.4 366.6L379.4 364.1L379.5 362.1L379.5 366.6L379.5 364.5L379.6 370.6L379.6 364.3L379.6 362.0L379.7 364.0L379.7 365.9L379.8 364.8L379.8 363.7L379.8 368.9L379.9 370.9L379.9 368.9L379.9 368.6L380.0 369.5L380.0 369.5L380.0 368.0L380.1 377.2L380.1 359.9L380.1 358.3L380.2 363.7L380.2 365.1L380.2 362.3L380.3 365.5L380.3 363.5L380.4 364.3L380.4 364.3L380.4 361.3L380.5 368.1L380.5 365.0L380.5 363.6L380.6 368.3L380.6 363.4L380.6 357.8L380.7 357.8L380.7 365.7L380.7 364.4L380.8 360.9L380.8 358.9L380.8 358.8L380.9 367.8L380.9 366.5L381.0 359.7L381.0 360.9L381.0 362.7L381.1 363.6L381.1 365.1L381.1 364.5L381.2 373.1L381.2 364.9L381.2 360.3L381.3 370.3L381.3 378.0L381.3 365.7L381.4 369.0L381.4 368.8L381.4 362.4L381.5 363.8L381.5 368.0L381.6 368.6L381.6 364.4L381.6 372.0L381.7 363.0L381.7 363.3L381.7 363.7L381.8 356.9L381.8 367.5L381.8 369.6L381.9 360.8L381.9 365.1L381.9 361.2L382.0 365.0L382.0 362.5L382.0 358.9L382.1 361.5L382.1 363.0L382.1 361.6L382.2 371.9L382.2 365.7L382.2 369.7L382.3 365.1L382.3 364.7L382.4 369.2L382.4 367.5L382.4 362.6L382.5 359.2L382.5 359.2L382.5 361.6L382.6 365.2L382.6 373.0L382.6 365.6L382.7 366.0L382.7 358.8L382.7 358.6L382.8 368.1L382.8 360.4L382.8 363.1L382.9 367.1L382.9 364.5L382.9 364.0L383.0 365.9L383.0 363.9L383.0 363.8L383.1 358.9L383.1 365.1L383.1 366.6L383.2 369.0L383.2 367.0L383.3 361.6L383.3 361.2L383.3 367.8L383.4 362.2L383.4 358.6L383.4 371.6L383.5 373.0L383.5 359.5L383.5 357.4L383.6 364.6L383.6 369.7L383.6 361.1L383.7 358.3L383.7 358.1L383.7 363.0L383.8 365.6L383.8 364.5L383.8 371.0L383.9 371.2L383.9 378.0L383.9 366.8L384.0 361.8L384.0 358.9L384.0 367.5L384.1 366.7L384.1 361.7L384.1 358.3L384.2 363.2L384.2 365.8L384.2 368.7L384.3 364.2L384.3 363.0L384.3 359.0L384.4 356.7L384.4 358.7L384.4 369.8L384.5 362.2L384.5 356.4L384.6 358.4L384.6 373.6L384.6 372.5L384.7 368.3L384.7 362.5L384.7 361.4L384.8 364.6L384.8 366.9L384.8 367.1L384.9 360.0L384.9 358.6L384.9 356.6L385.0 358.6L385.0 366.5L385.0 368.8L385.1 362.9L385.1 358.6L385.1 365.6L385.2 364.8L385.2 361.3L385.2 364.7L385.3 362.1L385.3 359.3L385.3 361.3L385.4 357.8L385.4 361.3L385.4 368.7L385.5 369.2L385.5 362.7L385.5 356.9L385.6 365.6L385.6 365.9L385.6 361.2L385.7 360.4L385.7 369.0L385.7 373.7L385.8 373.2L385.8 362.9L385.8 358.2L385.9 369.1L385.9 367.1L385.9 363.0L386.0 366.5L386.0 363.0L386.0 368.7L386.1 364.7L386.1 360.3L386.1 360.9L386.2 364.1L386.2 362.9L386.2 366.1L386.3 363.9L386.3 368.0L386.3 368.7L386.4 363.3L386.4 359.6L386.4 359.9L386.5 356.7L386.5 356.5L386.5 355.8L386.6 358.2L386.6 362.7L386.6 363.9L386.7 362.8L386.7 362.1L386.7 361.6L386.8 360.6L386.8 366.1L386.8 370.9L386.9 365.3L386.9 364.5L386.9 360.8L387.0 361.0L387.0 370.1L387.0 367.1L387.1 358.5L387.1 367.3L387.1 371.4L387.2 361.7L387.2 364.9L387.2 369.6L387.3 359.7L387.3 363.9L387.3 373.5L387.4 362.4L387.4 364.4L387.4 364.3L387.5 360.6L387.5 354.6L387.5 358.8L387.6 367.3L387.6 366.0L387.6 370.1L387.7 365.3L387.7 361.8L387.7 363.9L387.8 365.1L387.8 361.2L387.8 367.5L387.9 371.8L387.9 366.7L387.9 360.4L388.0 367.2L388.0 368.0L388.0 368.0L388.1 366.5L388.1 363.5L388.1 362.6L388.2 363.2L388.2 366.0L388.2 365.3L388.3 362.2L388.3 358.6L388.3 361.4L388.4 363.6L388.4 360.4L388.4 365.1L388.4 365.2L388.5 363.6L388.5 360.3L388.5 362.6L388.6 362.4L388.6 361.0L388.6 372.5L388.7 367.2L388.7 361.4L388.7 362.4L388.8 358.9L388.8 359.0L388.8 359.4L388.9 369.2L388.9 365.7L388.9 360.6L389.0 359.1L389.0 361.4L389.0 366.8L389.1 365.9L389.1 366.6L389.1 365.3L389.2 369.3L389.2 367.5L389.2 363.4L389.3 370.6L389.3 364.6L389.3 362.9L389.4 361.9L389.4 370.4L389.4 363.4L389.5 363.1L389.5 361.9L389.5 360.8L389.6 358.1L389.6 364.1L389.6 363.2L389.6 361.0L389.7 360.3L389.7 356.9L389.7 363.9L389.8 362.5L389.8 365.9L389.8 372.8L389.9 364.5L389.9 364.2L389.9 367.6L390.0 366.0L390.0 363.7L390.0 362.6L390.1 365.9L390.1 371.1L390.1 363.9L390.2 362.3L390.2 363.6L390.2 366.8L390.3 364.0L390.3 358.5L390.3 363.4L390.4 362.6L390.4 373.5L390.4 366.5L390.5 362.9L390.5 366.3L390.5 368.0L390.5 376.8L390.6 367.3L390.6 360.0L390.6 362.5L390.7 363.7L390.7 362.9L390.7 357.1L390.8 360.7L390.8 369.6L390.8 371.1L390.9 364.5L390.9 362.7L390.9 362.6L391.0 358.8L391.0 364.7L391.0 365.6L391.1 363.7L391.1 367.7L391.1 367.3L391.2 362.6L391.2 360.5L391.2 362.0L391.3 370.3L391.3 368.0L391.3 362.9L391.3 360.6L391.4 364.0L391.4 367.5L391.4 366.5L391.5 364.5L391.5 366.5L391.5 367.7L391.6 363.1L391.6 359.7L391.6 365.8L391.7 370.1L391.7 382.1L391.7 367.3L391.8 360.4L391.8 360.1L391.8 358.0L391.9 369.0L391.9 371.8L391.9 361.4L391.9 360.0L392.0 366.4L392.0 371.3L392.0 363.4L392.1 362.4L392.1 365.9L392.1 367.2L392.2 365.6L392.2 363.0L392.2 359.5L392.3 365.9L392.3 378.8L392.3 365.3L392.4 362.3L392.4 365.7L392.4 360.4L392.5 358.7L392.5 366.8L392.5 367.9L392.5 373.0L392.6 365.2L392.6 364.8L392.6 372.6L392.7 369.3L392.7 367.6L392.7 365.9L392.8 360.5L392.8 359.5L392.8 363.7L392.9 371.3L392.9 369.1L392.9 369.0L393.0 363.4L393.0 370.5L393.0 363.3L393.0 359.8L393.1 361.6L393.1 363.2L393.1 363.8L393.2 365.6L393.2 369.9L393.2 376.1L393.3 369.2L393.3 363.1L393.3 366.6L393.4 369.1L393.4 368.7L393.4 367.7L393.5 368.7L393.5 360.5L393.5 364.2L393.5 362.9L393.6 366.3L393.6 365.4L393.6 359.8L393.7 362.9L393.7 370.9L393.7 371.3L393.8 365.9L393.8 373.6L393.8 368.5L393.9 366.8L393.9 369.0L393.9 368.8L393.9 365.3L394.0 368.8L394.0 380.2L394.0 372.5L394.1 362.9L394.1 361.5L394.1 362.0L394.2 363.1L394.2 365.1L394.2 362.2L394.3 362.6L394.3 362.9L394.3 366.2L394.3 372.6L394.4 361.2L394.4 359.8L394.4 356.3L394.5 364.2L394.5 367.4L394.5 361.9L394.6 363.7L394.6 372.8L394.6 370.5L394.7 360.9L394.7 360.2L394.7 365.9L394.7 363.7L394.8 360.1L394.8 363.6L394.8 366.7L394.9 358.3L394.9 357.9L394.9 359.6L395.0 360.7L395.0 364.7L395.0 364.5L395.1 361.9L395.1 367.5L395.1 371.9L395.1 365.0L395.2 362.4L395.2 363.5L395.2 369.5L395.3 361.6L395.3 361.7L395.3 369.8L395.4 364.5L395.4 365.2L395.4 364.0L395.4 368.4L395.5 365.2L395.5 365.9L395.5 363.2L395.6 365.0L395.6 373.8L395.6 371.5L395.7 374.9L395.7 366.0L395.7 365.5L395.8 370.9L395.8 370.6L395.8 363.0L395.8 364.8L395.9 367.0L395.9 364.1L395.9 369.7L396.0 366.9L396.0 366.3L396.0 367.1L396.1 362.9L396.1 364.6L396.1 365.3L396.1 370.5L396.2 367.3L396.2 363.2L396.2 361.4L396.3 371.2L396.3 367.0L396.3 361.4L396.4 357.1L396.4 362.1L396.4 371.8L396.5 369.9L396.5 366.2L396.5 366.8L396.5 369.0L396.6 370.1L396.6 366.2L396.6 354.5L396.7 357.8L396.7 372.3L396.7 363.7L396.8 363.3L396.8 361.6L396.8 360.7L396.8 368.1L396.9 361.2L396.9 358.3L396.9 361.4L397.0 363.2L397.0 361.4L397.0 367.6L397.1 362.5L397.1 360.8L397.1 366.6L397.1 377.1L397.2 368.1L397.2 364.1L397.2 360.4L397.3 363.6L397.3 362.7L397.3 366.5L397.4 375.2L397.4 367.0L397.4 357.3L397.4 362.6L397.5 366.6L397.5 360.1L397.5 366.6L397.6 365.7L397.6 365.7L397.6 371.4L397.6 366.3L397.7 361.0L397.7 364.2L397.7 369.7L397.8 364.9L397.8 361.2L397.8 366.3L397.9 376.2L397.9 370.9L397.9 360.9L397.9 362.0L398.0 363.1L398.0 361.5L398.0 361.5L398.1 368.0L398.1 368.7L398.1 367.1L398.2 364.4L398.2 363.0L398.2 369.4L398.2 362.7L398.3 362.6L398.3 368.0L398.3 360.4L398.4 359.5L398.4 365.7L398.4 371.6L398.5 375.6L398.5 365.2L398.5 361.8L398.5 363.7L398.6 362.9L398.6 367.4L398.6 367.6L398.7 361.2L398.7 364.1L398.7 369.0L398.7 359.8L398.8 360.2L398.8 368.4L398.8 368.6L398.9 363.2L398.9 369.7L398.9 385.0L399.0 373.0L399.0 371.1L399.0 369.0L399.0 370.2L399.1 365.6L399.1 362.0L399.1 362.2L399.2 363.7L399.2 363.9L399.2 363.4L399.2 358.8L399.3 363.9L399.3 365.0L399.3 362.5L399.4 369.9L399.4 371.2L399.4 364.0L399.5 363.8L399.5 362.0L399.5 360.1L399.5 365.4L399.6 368.5L399.6 371.9L399.6 362.1L399.7 373.8L399.7 363.1L399.7 354.9L399.7 360.4L399.8 365.1L399.8 362.0L399.8 359.9L399.9 362.0L399.9 367.2L399.9 377.0L399.9 374.0L400.0 369.3L400.0 363.1L400.0 368.2L400.1 367.8L400.1 368.5L400.1 368.1L400.2 365.5L400.2 370.1L400.2 369.3L400.2 372.7L400.3 369.8L400.3 370.5L400.3 372.1L400.4 373.7L400.4 367.0L400.4 371.2L400.4 369.0L400.5 366.7L400.5 372.0L400.5 358.1L400.6 355.1L400.6 363.4L400.6 363.6L400.6 361.2L400.7 367.2L400.7 367.0L400.7 362.1L400.8 369.5L400.8 363.0L400.8 369.2L400.8 371.8L400.9 360.7L400.9 362.1L400.9 358.7L401.0 366.6L401.0 366.1L401.0 363.5L401.0 365.1L401.1 372.5L401.1 368.0L401.1 368.8L401.2 367.9L401.2 367.1L401.2 369.4L401.2 372.2L401.3 379.6L401.3 361.9L401.3 367.3L401.4 365.0L401.4 370.6L401.4 362.7L401.4 363.0L401.5 363.2L401.5 365.8L401.5 378.9L401.6 370.5L401.6 367.1L401.6 363.9L401.7 366.1L401.7 364.3L401.7 361.9L401.7 367.8L401.8 366.3L401.8 359.3L401.8 357.6L401.9 364.7L401.9 372.3L401.9 364.4L401.9 361.9L402.0 364.0L402.0 364.8L402.0 360.6L402.1 355.3L402.1 365.5L402.1 367.7L402.1 363.6L402.2 363.6L402.2 365.2L402.2 360.5L402.2 357.0L402.3 358.4L402.3 366.6L402.3 367.0L402.4 365.3L402.4 363.1L402.4 364.4L402.4 367.3L402.5 360.2L402.5 361.2L402.5 369.2L402.6 364.0L402.6 365.7L402.6 371.0L402.6 369.7L402.7 362.5L402.7 365.8L402.7 362.0L402.8 363.0L402.8 363.9L402.8 360.0L402.8 356.2L402.9 360.8L402.9 378.2L402.9 371.8L403.0 360.6L403.0 364.2L403.0 367.0L403.0 376.6L403.1 370.8L403.1 377.4L403.1 369.7L403.2 365.1L403.2 365.2L403.2 369.7L403.2 365.3L403.3 365.0L403.3 368.2L403.3 362.3L403.4 359.3L403.4 366.4L403.4 365.2L403.4 366.0L403.5 370.9L403.5 363.2L403.5 365.3L403.6 370.5L403.6 367.0L403.6 363.8L403.6 363.0L403.7 366.2L403.7 368.4L403.7 367.5L403.7 360.8L403.8 359.8L403.8 363.8L403.8 371.7L403.9 368.2L403.9 368.9L403.9 370.0L403.9 361.8L404.0 363.1L404.0 366.2L404.0 365.2L404.1 364.0L404.1 357.3L404.1 361.1L404.1 369.2L404.2 375.7L404.2 364.2L404.2 360.4L404.3 366.3L404.3 367.4L404.3 364.5L404.3 356.6L404.4 359.8L404.4 367.2L404.4 371.8L404.4 364.6L404.5 360.5L404.5 363.0L404.5 366.5L404.6 365.7L404.6 366.6L404.6 364.3L404.6 354.5L404.7 354.8L404.7 355.1L404.7 355.9L404.8 362.2L404.8 363.7L404.8 361.3L404.8 366.4L404.9 364.8L404.9 363.0L404.9 374.9L404.9 370.3L405.0 360.5L405.0 359.8L405.0 362.3L405.1 373.4L405.1 370.3L405.1 369.0L405.1 361.7L405.2 370.5L405.2 369.8L405.2 365.7L405.2 364.9L405.3 366.7L405.3 367.8L405.3 374.7L405.4 365.9L405.4 362.2L405.4 361.8L405.4 365.2L405.5 368.5L405.5 361.9L405.5 357.7L405.6 354.6L405.6 360.0L405.6 365.7L405.6 365.2L405.7 369.5L405.7 362.9L405.7 369.0L405.7 365.6L405.8 358.2L405.8 364.2L405.8 364.8L405.9 367.5L405.9 374.6L405.9 368.4L405.9 368.1L406.0 372.1L406.0 370.2L406.0 363.3L406.0 372.1L406.1 385.4L406.1 378.8L406.1 363.6L406.2 360.5L406.2 367.3L406.2 374.1L406.2 367.3L406.3 359.4L406.3 359.7L406.3 365.1L406.3 364.3L406.4 363.2L406.4 367.7L406.4 361.6L406.5 359.0L406.5 368.5L406.5 371.7L406.5 379.9L406.6 372.3L406.6 359.8L406.6 359.2L406.6 361.3L406.7 363.0L406.7 364.7L406.7 360.3L406.8 365.7L406.8 362.1L406.8 365.4L406.8 362.8L406.9 371.7L406.9 365.5L406.9 361.3L406.9 366.6L407.0 370.3L407.0 369.6L407.0 366.5L407.1 366.4L407.1 368.7L407.1 363.3L407.1 360.9L407.2 362.9L407.2 364.9L407.2 364.0L407.2 368.9L407.3 358.4L407.3 358.2L407.3 365.5L407.4 367.6L407.4 362.9L407.4 366.2L407.4 364.7L407.5 363.1L407.5 364.9L407.5 372.3L407.5 371.0L407.6 370.1L407.6 365.8L407.6 372.7L407.7 367.8L407.7 359.1L407.7 365.0L407.7 373.0L407.8 371.4L407.8 370.8L407.8 361.8L407.8 365.9L407.9 361.7L407.9 359.0L407.9 359.2L407.9 364.6L408.0 364.0L408.0 358.9L408.0 364.2L408.1 371.6L408.1 372.6L408.1 380.8L408.1 368.3L408.2 370.6L408.2 363.3L408.2 358.8L408.2 358.7L408.3 359.4L408.3 365.9L408.3 365.5L408.3 357.2L408.4 355.7L408.4 366.3L408.4 366.9L408.5 360.1L408.5 358.9L408.5 369.8L408.5 369.8L408.6 369.3L408.6 367.7L408.6 373.3L408.6 371.7L408.7 365.0L408.7 368.9L408.7 367.1L408.8 360.6L408.8 366.8L408.8 368.2L408.8 363.4L408.9 362.7L408.9 365.7L408.9 367.2L408.9 369.0L409.0 366.7L409.0 372.7L409.0 364.9L409.0 359.5L409.1 364.8L409.1 364.1L409.1 363.2L409.1 366.7L409.2 367.5L409.2 367.7L409.2 366.1L409.3 367.9L409.3 366.5L409.3 361.1L409.3 366.9L409.4 378.8L409.4 377.8L409.4 368.2L409.4 365.0L409.5 365.8L409.5 360.0L409.5 363.3L409.5 376.3L409.6 371.7L409.6 366.4L409.6 366.4L409.7 364.1L409.7 361.6L409.7 363.3L409.7 370.6L409.8 365.9L409.8 367.8L409.8 378.0L409.8 373.6L409.9 367.9L409.9 362.1L409.9 363.8L409.9 369.1L410.0 363.8L410.0 362.3L410.0 358.3L410.0 358.2L410.1 360.2L410.1 369.9L410.1 372.5L410.2 369.8L410.2 365.4L410.2 364.9L410.2 365.1L410.3 364.6L410.3 372.5L410.3 371.6L410.3 372.5L410.4 366.0L410.4 364.0L410.4 362.7L410.4 360.7L410.5 367.4L410.5 371.4L410.5 371.3L410.5 373.0L410.6 371.3L410.6 370.3L410.6 365.5L410.7 365.7L410.7 367.1L410.7 378.5L410.7 369.4L410.8 367.3L410.8 368.3L410.8 368.9L410.8 369.7L410.9 367.3L410.9 357.2L410.9 356.8L410.9 365.1L411.0 372.2L411.0 368.8L411.0 372.2L411.0 362.6L411.1 361.5L411.1 366.9L411.1 369.1L411.1 369.0L411.2 364.7L411.2 363.9L411.2 363.8L411.3 363.7L411.3 373.7L411.3 372.2L411.3 367.0L411.4 365.6L411.4 367.1L411.4 367.5L411.4 371.7L411.5 368.4L411.5 361.0L411.5 362.0L411.5 363.9L411.6 363.4L411.6 373.3L411.6 361.5L411.6 356.2L411.7 363.8L411.7 364.5L411.7 358.1L411.7 357.3L411.8 357.2L411.8 362.7L411.8 369.1L411.8 370.8L411.9 368.7L411.9 361.3L411.9 357.5L412.0 357.7L412.0 365.5L412.0 360.5L412.0 358.8L412.1 357.6L412.1 363.7L412.1 364.8L412.1 359.2L412.2 363.9L412.2 362.2L412.2 362.5L412.2 367.9L412.3 360.6L412.3 363.4L412.3 367.8L412.3 364.6L412.4 358.3L412.4 358.1L412.4 361.5L412.4 367.9L412.5 373.8L412.5 372.3L412.5 365.4L412.5 364.7L412.6 367.9L412.6 369.9L412.6 368.0L412.6 363.4L412.7 370.1L412.7 366.8L412.7 362.8L412.7 367.8L412.8 373.6L412.8 374.2L412.8 366.7L412.9 358.6L412.9 359.1L412.9 365.0L412.9 364.6L413.0 359.7L413.0 360.5L413.0 361.5L413.0 360.7L413.1 360.3L413.1 368.2L413.1 368.3L413.1 366.0L413.2 359.2L413.2 362.7L413.2 369.8L413.2 361.4L413.3 366.0L413.3 380.5L413.3 375.8L413.3 365.6L413.4 371.5L413.4 367.6L413.4 366.2L413.4 370.2L413.5 386.5L413.5 375.9L413.5 366.8L413.5 364.8L413.6 375.2L413.6 371.6L413.6 370.4L413.6 362.1L413.7 362.3L413.7 367.8L413.7 376.8L413.7 364.6L413.8 361.2L413.8 363.3L413.8 368.1L413.8 368.5L413.9 365.1L413.9 361.9L413.9 362.5L413.9 369.1L414.0 375.0L414.0 369.5L414.0 371.2L414.0 369.8L414.1 371.6L414.1 370.1L414.1 368.4L414.1 371.4L414.2 365.9L414.2 364.3L414.2 357.3L414.2 356.5L414.3 365.0L414.3 365.6L414.3 362.9L414.4 361.9L414.4 367.2L414.4 369.5L414.4 373.3L414.5 371.6L414.5 366.4L414.5 365.5L414.5 362.3L414.6 365.6L414.6 363.2L414.6 361.2L414.6 356.5L414.7 356.2L414.7 358.2L414.7 366.4L414.7 366.4L414.8 365.5L414.8 372.3L414.8 373.1L414.8 370.6L414.9 359.5L414.9 356.5L414.9 359.6L414.9 366.0L415.0 364.9L415.0 364.6L415.0 368.6L415.0 369.5L415.1 369.2L415.1 366.0L415.1 364.2L415.1 369.3L415.2 373.9L415.2 379.1L415.2 368.1L415.2 361.7L415.3 363.1L415.3 359.8L415.3 364.5L415.3 373.5L415.4 373.3L415.4 369.2L415.4 363.0L415.4 356.7L415.5 360.0L415.5 360.2L415.5 361.8L415.5 366.6L415.6 365.8L415.6 365.6L415.6 363.5L415.6 361.5L415.7 368.0L415.7 370.7L415.7 367.4L415.7 362.6L415.8 361.4L415.8 362.7L415.8 359.3L415.8 357.3L415.9 363.1L415.9 374.8L415.9 364.8L415.9 367.3L416.0 364.3L416.0 363.9L416.0 369.0L416.0 367.2L416.1 361.5L416.1 369.0L416.1 374.1L416.1 375.2L416.2 368.3L416.2 367.8L416.2 376.7L416.2 366.6L416.2 362.9L416.3 362.5L416.3 364.5L416.3 363.4L416.3 376.7L416.4 367.3L416.4 366.8L416.4 365.5L416.4 364.6L416.5 369.9L416.5 362.3L416.5 359.6L416.5 364.6L416.6 365.6L416.6 364.5L416.6 366.8L416.6 373.2L416.7 368.8L416.7 372.0L416.7 371.9L416.7 364.0L416.8 364.8L416.8 361.6L416.8 361.4L416.8 368.6L416.9 367.3L416.9 366.8L416.9 365.3L416.9 361.9L417.0 361.6L417.0 359.8L417.0 358.5L417.0 362.0L417.1 366.8L417.1 373.5L417.1 370.4L417.1 367.6L417.2 363.5L417.2 364.6L417.2 369.9L417.2 371.0L417.3 361.8L417.3 362.0L417.3 363.1L417.3 364.0L417.4 365.8L417.4 372.5L417.4 371.3L417.4 370.9L417.5 370.5L417.5 362.6L417.5 358.3L417.5 375.6L417.6 364.2L417.6 359.3L417.6 355.2L417.6 356.0L417.6 362.0L417.7 365.1L417.7 360.5L417.7 356.8L417.7 372.3L417.8 369.8L417.8 366.2L417.8 365.6L417.8 368.0L417.9 373.5L417.9 365.4L417.9 367.7L417.9 381.1L418.0 375.3L418.0 363.3L418.0 363.6L418.0 359.8L418.1 360.2L418.1 361.5L418.1 365.3L418.1 362.2L418.2 362.9L418.2 360.6L418.2 361.0L418.2 361.8L418.3 363.4L418.3 369.2L418.3 367.3L418.3 368.8L418.4 371.7L418.4 368.7L418.4 367.7L418.4 369.2L418.5 366.8L418.5 366.8L418.5 373.7L418.5 372.7L418.5 365.7L418.6 365.0L418.6 368.9L418.6 367.3L418.6 365.2L418.7 363.9L418.7 356.5L418.7 354.8L418.7 357.0L418.8 360.0L418.8 363.4L418.8 364.9L418.8 364.5L418.9 364.1L418.9 365.9L418.9 365.0L418.9 369.5L419.0 366.2L419.0 369.7L419.0 362.8L419.0 360.9L419.1 358.8L419.1 365.0L419.1 371.2L419.1 363.2L419.2 359.9L419.2 368.0L419.2 377.2L419.2 370.6L419.2 364.3L419.3 361.9L419.3 369.9L419.3 373.3L419.3 368.4L419.4 362.6L419.4 363.4L419.4 364.6L419.4 367.2L419.5 365.5L419.5 360.8L419.5 360.7L419.5 368.4L419.6 363.5L419.6 365.5L419.6 370.6L419.6 366.8L419.7 358.9L419.7 361.9L419.7 371.5L419.7 361.1L419.7 361.3L419.8 365.7L419.8 360.4L419.8 362.5L419.8 366.3L419.9 371.3L419.9 373.9L419.9 368.0L419.9 369.9L420.0 364.3L420.0 362.8L420.0 372.5L420.0 365.1L420.1 363.3L420.1 364.6L420.1 364.9L420.1 375.2L420.2 369.6L420.2 371.9L420.2 370.3L420.2 360.5L420.3 362.4L420.3 376.9L420.3 368.2L420.3 363.8L420.3 357.3L420.4 362.5L420.4 364.6L420.4 359.2L420.4 361.3L420.5 363.8L420.5 361.0L420.5 360.8L420.5 368.5L420.6 368.3L420.6 372.3L420.6 364.2L420.6 370.0L420.7 373.0L420.7 369.7L420.7 366.5L420.7 365.5L420.7 369.7L420.8 378.6L420.8 372.9L420.8 372.1L420.8 365.9L420.9 361.6L420.9 365.2L420.9 368.0L420.9 370.2L421.0 369.8L421.0 361.6L421.0 364.1L421.0 368.1L421.1 371.2L421.1 360.4L421.1 363.6L421.1 374.2L421.1 364.6L421.2 363.0L421.2 359.1L421.2 359.1L421.2 365.0L421.3 373.2L421.3 360.6L421.3 360.3L421.3 362.4L421.4 362.8L421.4 375.8L421.4 371.8L421.4 363.6L421.5 360.8L421.5 361.3L421.5 367.6L421.5 365.4L421.5 372.1L421.6 363.3L421.6 367.2L421.6 362.3L421.6 362.0L421.7 359.0L421.7 359.1L421.7 358.6L421.7 359.8L421.8 360.8L421.8 363.6L421.8 365.4L421.8 366.3L421.9 364.2L421.9 362.7L421.9 365.4L421.9 362.9L421.9 364.7L422.0 364.4L422.0 362.6L422.0 364.2L422.0 369.4L422.1 370.8L422.1 375.2L422.1 364.0L422.1 364.0L422.2 381.3L422.2 371.5L422.2 374.4L422.2 364.5L422.3 368.8L422.3 374.6L422.3 364.0L422.3 370.8L422.3 367.4L422.4 363.4L422.4 369.1L422.4 369.7L422.4 374.4L422.5 371.0L422.5 368.5L422.5 364.3L422.5 364.1L422.6 363.6L422.6 364.8L422.6 366.9L422.6 365.4L422.6 361.1L422.7 374.7L422.7 368.5L422.7 368.7L422.7 363.7L422.8 368.5L422.8 370.5L422.8 370.8L422.8 373.2L422.9 371.6L422.9 367.8L422.9 366.5L422.9 362.3L422.9 365.0L423.0 363.4L423.0 360.1L423.0 373.6L423.0 372.3L423.1 375.9L423.1 368.1L423.1 367.0L423.1 374.8L423.2 368.7L423.2 357.9L423.2 364.6L423.2 365.4L423.2 359.7L423.3 370.2L423.3 365.4L423.3 366.2L423.3 367.1L423.4 360.8L423.4 364.8L423.4 365.3L423.4 372.4L423.5 376.0L423.5 367.3L423.5 365.2L423.5 364.9L423.5 365.3L423.6 372.2L423.6 366.4L423.6 365.3L423.6 369.2L423.7 368.2L423.7 360.5L423.7 362.4L423.7 362.0L423.8 361.7L423.8 362.5L423.8 363.3L423.8 362.7L423.8 362.9L423.9 366.8L423.9 361.8L423.9 357.8L423.9 363.4L424.0 359.4L424.0 363.1L424.0 365.9L424.0 375.8L424.1 380.4L424.1 370.6L424.1 367.1L424.1 376.2L424.1 364.3L424.2 357.4L424.2 359.5L424.2 358.3L424.2 359.9L424.3 365.8L424.3 366.6L424.3 372.1L424.3 371.1L424.3 374.9L424.4 373.3L424.4 369.5L424.4 378.9L424.4 366.3L424.5 361.0L424.5 354.3L424.5 356.0L424.5 365.1L424.6 367.4L424.6 369.2L424.6 366.5L424.6 369.9L424.6 376.9L424.7 365.0L424.7 362.9L424.7 373.7L424.7 362.7L424.8 362.2L424.8 362.4L424.8 360.1L424.8 360.8L424.8 362.1L424.9 364.7L424.9 371.3L424.9 369.2L424.9 369.6L425.0 365.7L425.0 367.9L425.0 371.9L425.0 363.6L425.1 362.1L425.1 366.4L425.1 363.2L425.1 364.6L425.1 367.0L425.2 372.7L425.2 366.9L425.2 364.0L425.2 364.3L425.3 371.5L425.3 374.1L425.3 373.9L425.3 373.7L425.3 374.5L425.4 370.7L425.4 356.1L425.4 359.2L425.4 372.8L425.5 363.4L425.5 366.2L425.5 369.9L425.5 367.9L425.6 365.2L425.6 361.8L425.6 367.9L425.6 358.7L425.6 360.7L425.7 376.0L425.7 368.9L425.7 374.7L425.7 379.9L425.8 370.7L425.8 368.3L425.8 365.2L425.8 367.9L425.8 366.8L425.9 364.5L425.9 362.3L425.9 359.2L425.9 364.1L426.0 366.0L426.0 362.7L426.0 361.8L426.0 364.6L426.0 368.0L426.1 367.7L426.1 361.9L426.1 363.0L426.1 363.3L426.2 364.4L426.2 363.7L426.2 368.1L426.2 367.4L426.2 365.1L426.3 365.8L426.3 371.7L426.3 371.8L426.3 367.9L426.4 360.7L426.4 367.6L426.4 367.0L426.4 363.9L426.4 365.3L426.5 364.4L426.5 360.5L426.5 356.8L426.5 360.6L426.6 358.5L426.6 360.1L426.6 360.2L426.6 361.9L426.6 363.4L426.7 358.6L426.7 366.5L426.7 371.5L426.7 375.0L426.8 364.9L426.8 360.7L426.8 364.8L426.8 362.0L426.9 362.1L426.9 360.8L426.9 363.6L426.9 363.9L426.9 366.7L427.0 364.7L427.0 368.4L427.0 374.2L427.0 368.7L427.1 359.6L427.1 359.9L427.1 361.0L427.1 361.3L427.1 359.6L427.2 360.2L427.2 356.0L427.2 358.8L427.2 368.9L427.3 369.2L427.3 368.1L427.3 375.3L427.3 369.0L427.3 364.4L427.4 363.3L427.4 362.2L427.4 368.2L427.4 366.5L427.4 373.1L427.5 367.5L427.5 360.9L427.5 366.7L427.5 362.0L427.6 365.8L427.6 367.8L427.6 365.6L427.6 365.3L427.6 367.5L427.7 365.9L427.7 367.9L427.7 368.1L427.7 382.2L427.8 367.5L427.8 368.9L427.8 362.5L427.8 363.3L427.8 364.8L427.9 371.3L427.9 376.8L427.9 363.0L427.9 368.0L428.0 367.6L428.0 365.7L428.0 364.9L428.0 373.3L428.0 359.8L428.1 361.3L428.1 361.6L428.1 362.6L428.1 365.3L428.2 363.0L428.2 364.6L428.2 368.3L428.2 368.5L428.2 367.4L428.3 368.5L428.3 374.7L428.3 367.0L428.3 362.7L428.4 364.0L428.4 364.1L428.4 360.0L428.4 362.8L428.4 363.8L428.5 365.6L428.5 362.4L428.5 371.7L428.5 377.1L428.5 373.8L428.6 368.0L428.6 365.7L428.6 362.8L428.6 372.1L428.7 366.1L428.7 359.6L428.7 364.2L428.7 366.6L428.7 366.7L428.8 364.3L428.8 369.5L428.8 365.8L428.8 361.1L428.9 364.3L428.9 370.0L428.9 374.7L428.9 369.3L428.9 361.4L429.0 356.7L429.0 361.3L429.0 363.7L429.0 371.5L429.1 360.5L429.1 356.5L429.1 358.9L429.1 368.0L429.1 369.1L429.2 367.8L429.2 370.5L429.2 367.7L429.2 356.7L429.2 360.3L429.3 366.7L429.3 366.7L429.3 366.4L429.3 363.7L429.4 360.9L429.4 360.4L429.4 367.6L429.4 367.7L429.4 364.0L429.5 375.6L429.5 373.7L429.5 372.0L429.5 366.8L429.6 364.3L429.6 367.2L429.6 363.1L429.6 364.5L429.6 367.8L429.7 369.7L429.7 371.1L429.7 370.4L429.7 366.3L429.7 366.9L429.8 368.3L429.8 368.0L429.8 363.9L429.8 363.9L429.9 371.1L429.9 362.1L429.9 360.5L429.9 366.3L429.9 366.9L430.0 369.6L430.0 367.2L430.0 370.2L430.0 369.3L430.0 364.6L430.1 365.4L430.1 365.9L430.1 366.8L430.1 369.0L430.2 362.4L430.2 360.2L430.2 367.7L430.2 374.0L430.2 365.3L430.3 365.4L430.3 367.2L430.3 366.6L430.3 366.1L430.3 365.0L430.4 365.0L430.4 362.6L430.4 363.5L430.4 371.4L430.5 362.1L430.5 362.1L430.5 364.6L430.5 370.7L430.5 369.7L430.6 368.6L430.6 365.7L430.6 367.5L430.6 364.0L430.6 362.7L430.7 359.6L430.7 370.3L430.7 374.6L430.7 369.7L430.8 362.1L430.8 359.0L430.8 359.5L430.8 363.6L430.8 359.1L430.9 359.6L430.9 370.6L430.9 367.1L430.9 365.4L430.9 368.3L431.0 360.4L431.0 358.0L431.0 365.3L431.0 368.5L431.1 368.2L431.1 368.8L431.1 365.5L431.1 366.6L431.1 368.3L431.2 360.3L431.2 359.7L431.2 363.9L431.2 363.1L431.2 363.3L431.3 360.5L431.3 367.1L431.3 384.6L431.3 371.9L431.4 365.8L431.4 364.5L431.4 369.0L431.4 369.4L431.4 360.6L431.5 358.5L431.5 363.0L431.5 361.2L431.5 360.5L431.5 365.4L431.6 362.0L431.6 357.3L431.6 357.2L431.6 368.8L431.7 367.1L431.7 367.8L431.7 366.6L431.7 371.7L431.7 371.5L431.8 368.5L431.8 371.1L431.8 373.4L431.8 364.7L431.8 361.4L431.9 367.5L431.9 365.0L431.9 365.5L431.9 368.8L431.9 366.1L432.0 363.5L432.0 364.6L432.0 363.6L432.0 359.5L432.1 360.0L432.1 368.5L432.1 364.5L432.1 360.4L432.1 364.7L432.2 372.7L432.2 371.3L432.2 365.2L432.2 366.9L432.2 372.7L432.3 375.4L432.3 369.3L432.3 371.7L432.3 374.2L432.3 367.4L432.4 368.1L432.4 364.5L432.4 370.9L432.4 382.9L432.5 368.7L432.5 364.8L432.5 368.7L432.5 375.2L432.5 363.8L432.6 362.5L432.6 364.9L432.6 360.2L432.6 367.3L432.6 365.9L432.7 364.7L432.7 368.2L432.7 367.4L432.7 362.3L432.7 362.0L432.8 360.2L432.8 360.1L432.8 362.8L432.8 367.2L432.9 371.3L432.9 363.9L432.9 369.8L432.9 366.1L432.9 371.0L433.0 374.2L433.0 369.0L433.0 364.9L433.0 362.5L433.0 364.8L433.1 362.3L433.1 362.3L433.1 365.0L433.1 364.3L433.1 365.1L433.2 364.8L433.2 364.9L433.2 365.0L433.2 374.7L433.3 365.2L433.3 364.3L433.3 365.3L433.3 367.3L433.3 367.7L433.4 373.0L433.4 370.2L433.4 366.0L433.4 373.7L433.4 366.9L433.5 361.6L433.5 368.9L433.5 372.8L433.5 371.8L433.5 373.9L433.6 371.3L433.6 366.2L433.6 362.7L433.6 368.1L433.6 365.6L433.7 363.4L433.7 363.2L433.7 367.1L433.7 372.2L433.8 370.5L433.8 365.4L433.8 371.4L433.8 373.1L433.8 367.5L433.9 373.8L433.9 365.0L433.9 365.7L433.9 367.0L433.9 369.2L434.0 373.5L434.0 362.2L434.0 362.1L434.0 365.4L434.0 363.4L434.1 363.1L434.1 366.3L434.1 367.7L434.1 363.9L434.1 358.3L434.2 360.3L434.2 368.4L434.2 365.4L434.2 364.6L434.2 356.4L434.3 362.0L434.3 359.2L434.3 366.1L434.3 358.5L434.4 368.7L434.4 372.0L434.4 362.5L434.4 362.8L434.4 371.4L434.5 368.7L434.5 360.9L434.5 364.8L434.5 366.2L434.5 369.4L434.6 366.8L434.6 359.8L434.6 356.4L434.6 363.8L434.6 361.3L434.7 365.7L434.7 366.9L434.7 369.7L434.7 362.0L434.7 362.3L434.8 363.2L434.8 365.8L434.8 366.8L434.8 365.2L434.8 362.8L434.9 360.6L434.9 367.1L434.9 366.1L434.9 364.5L434.9 364.8L435.0 361.3L435.0 363.8L435.0 362.3L435.0 365.9L435.1 363.5L435.1 367.7L435.1 362.8L435.1 358.9L435.1 358.1L435.2 364.1L435.2 372.3L435.2 373.4L435.2 364.5L435.2 361.0L435.3 364.0L435.3 365.5L435.3 365.1L435.3 364.2L435.3 364.8L435.4 356.9L435.4 361.1L435.4 373.1L435.4 363.2L435.4 362.7L435.5 366.2L435.5 368.8L435.5 369.2L435.5 371.3L435.5 371.7L435.6 367.7L435.6 365.6L435.6 363.0L435.6 366.1L435.6 363.0L435.7 364.7L435.7 368.8L435.7 364.0L435.7 365.0L435.7 371.1L435.8 364.6L435.8 360.8L435.8 363.2L435.8 364.6L435.8 363.8L435.9 366.8L435.9 363.4L435.9 359.2L435.9 359.4L435.9 367.0L436.0 368.2L436.0 369.5L436.0 363.2L436.0 363.2L436.1 370.1L436.1 366.1L436.1 365.2L436.1 368.4L436.1 370.1L436.2 361.6L436.2 364.8L436.2 357.6L436.2 363.1L436.2 354.9L436.3 354.3L436.3 357.3L436.3 364.0L436.3 370.0L436.3 373.1L436.4 366.6L436.4 365.1L436.4 372.1L436.4 374.5L436.4 366.4L436.5 366.5L436.5 364.4L436.5 368.2L436.5 363.4L436.5 360.2L436.6 362.3L436.6 361.9L436.6 366.3L436.6 374.4L436.6 361.8L436.7 364.3L436.7 367.0L436.7 362.5L436.7 357.8L436.7 364.3L436.8 356.3L436.8 360.3L436.8 363.8L436.8 374.4L436.8 363.3L436.9 363.8L436.9 365.5L436.9 367.0L436.9 368.1L436.9 366.9L437.0 372.0L437.0 378.9L437.0 365.7L437.0 368.0L437.0 374.0L437.1 368.5L437.1 369.1L437.1 365.5L437.1 371.7L437.1 373.3L437.2 373.9L437.2 359.7L437.2 359.0L437.2 365.4L437.2 375.6L437.3 365.8L437.3 359.6L437.3 355.9L437.3 359.5L437.3 364.3L437.4 364.6L437.4 364.8L437.4 375.0L437.4 363.9L437.4 364.6L437.5 369.6L437.5 365.3L437.5 362.1L437.5 358.6L437.5 358.0L437.6 359.1L437.6 360.1L437.6 364.8L437.6 370.4L437.6 364.3L437.7 367.7L437.7 363.3L437.7 362.9L437.7 365.5L437.7 362.6L437.8 369.5L437.8 368.1L437.8 368.5L437.8 363.8L437.8 365.8L437.9 371.6L437.9 374.3L437.9 372.9L437.9 372.2L437.9 368.3L438.0 367.6L438.0 370.1L438.0 375.0L438.0 372.6L438.0 363.6L438.1 360.8L438.1 367.2L438.1 366.8L438.1 364.0L438.1 361.9L438.2 366.2L438.2 371.1L438.2 370.7L438.2 367.4L438.2 361.1L438.3 361.4L438.3 366.9L438.3 363.7L438.3 363.2L438.3 358.0L438.4 357.3L438.4 365.8L438.4 372.9L438.4 379.5L438.4 367.0L438.5 371.4L438.5 376.6L438.5 372.8L438.5 371.2L438.5 365.9L438.6 363.6L438.6 360.9L438.6 361.6L438.6 368.3L438.6 367.7L438.7 365.6L438.7 365.0L438.7 366.4L438.7 363.8L438.7 362.9L438.8 365.2L438.8 363.3L438.8 361.3L438.8 362.6L438.8 366.2L438.9 363.7L438.9 361.5L438.9 365.6L438.9 375.7L438.9 371.7L439.0 368.7L439.0 370.4L439.0 369.2L439.0 371.3L439.0 365.7L439.0 360.3L439.1 360.4L439.1 357.5L439.1 357.4L439.1 360.2L439.1 361.9L439.2 371.3L439.2 374.5L439.2 367.8L439.2 368.9L439.2 368.6L439.3 371.2L439.3 364.4L439.3 362.4L439.3 359.3L439.3 357.8L439.4 366.0L439.4 364.6L439.4 361.2L439.4 364.4L439.4 362.5L439.5 363.1L439.5 365.2L439.5 369.5L439.5 370.0L439.5 369.6L439.6 365.7L439.6 364.7L439.6 363.2L439.6 364.1L439.6 363.8L439.7 367.0L439.7 368.8L439.7 374.6L439.7 366.8L439.7 360.5L439.8 361.7L439.8 357.7L439.8 360.6L439.8 374.0L439.8 361.9L439.9 361.5L439.9 361.6L439.9 361.7L439.9 364.4L439.9 367.3L440.0 363.6L440.0 357.8L440.0 360.2L440.0 364.2L440.0 363.1L440.0 377.7L440.1 368.5L440.1 365.2L440.1 367.3L440.1 373.8L440.1 379.1L440.2 364.5L440.2 361.3L440.2 367.6L440.2 365.5L440.2 362.7L440.3 362.7L440.3 368.0L440.3 374.7L440.3 367.5L440.3 363.5L440.4 362.2L440.4 364.1L440.4 365.9L440.4 358.4L440.4 355.7L440.5 359.2L440.5 366.0L440.5 362.1L440.5 365.3L440.5 365.4L440.6 371.2L440.6 362.0L440.6 361.3L440.6 364.7L440.6 367.8L440.7 369.3L440.7 365.5L440.7 360.0L440.7 367.9L440.7 366.1L440.7 365.0L440.8 360.8L440.8 360.0L440.8 359.1L440.8 363.5L440.8 371.2L440.9 364.8L440.9 365.1L440.9 369.4L440.9 362.2L440.9 363.2L441.0 366.9L441.0 362.2L441.0 362.8L441.0 362.9L441.0 362.3L441.1 363.1L441.1 365.5L441.1 372.0L441.1 377.9L441.1 366.2L441.2 364.2L441.2 373.1L441.2 380.7L441.2 372.5L441.2 363.9L441.3 359.0L441.3 363.4L441.3 367.8L441.3 370.2L441.3 369.9L441.3 367.0L441.4 363.7L441.4 365.0L441.4 363.5L441.4 361.6L441.4 366.2L441.5 364.2L441.5 372.1L441.5 367.4L441.5 359.4L441.5 357.7L441.6 362.1L441.6 365.0L441.6 363.6L441.6 372.4L441.6 368.4L441.7 363.4L441.7 361.6L441.7 357.5L441.7 358.7L441.7 361.1L441.8 368.9L441.8 378.3L441.8 372.3L441.8 363.2L441.8 366.7L441.8 373.2L441.9 379.9L441.9 370.0L441.9 360.5L441.9 359.7L441.9 365.0L442.0 366.9L442.0 364.5L442.0 363.8L442.0 369.5L442.0 370.5L442.1 364.0L442.1 365.5L442.1 361.4L442.1 370.9L442.1 380.5L442.2 368.0L442.2 359.5L442.2 365.1L442.2 369.9L442.2 367.6L442.2 373.7L442.3 361.8L442.3 363.5L442.3 364.4L442.3 363.9L442.3 370.5L442.4 372.0L442.4 367.0L442.4 367.1L442.4 363.7L442.4 367.2L442.5 366.9L442.5 364.6L442.5 373.6L442.5 368.8L442.5 362.5L442.6 362.3L442.6 361.2L442.6 363.1L442.6 361.2L442.6 359.6L442.6 359.0L442.7 365.4L442.7 382.8L442.7 374.1L442.7 368.5L442.7 359.4L442.8 358.5L442.8 358.5L442.8 358.4L442.8 372.2L442.8 370.6L442.9 368.9L442.9 364.8L442.9 372.5L442.9 367.7L442.9 372.7L443.0 369.5L443.0 370.2L443.0 373.6L443.0 373.6L443.0 369.4L443.0 371.0L443.1 365.7L443.1 362.8L443.1 359.3L443.1 365.2L443.1 369.6L443.2 374.0L443.2 366.2L443.2 362.9L443.2 361.8L443.2 363.9L443.3 369.1L443.3 367.4L443.3 373.4L443.3 364.5L443.3 362.8L443.3 362.4L443.4 366.6L443.4 364.2L443.4 369.0L443.4 365.9L443.4 363.4L443.5 368.4L443.5 368.3L443.5 364.4L443.5 363.9L443.5 365.4L443.6 363.6L443.6 362.5L443.6 368.5L443.6 371.9L443.6 368.1L443.7 377.2L443.7 369.0L443.7 366.3L443.7 365.6L443.7 368.3L443.7 369.1L443.8 365.7L443.8 372.8L443.8 366.8L443.8 363.8L443.8 369.5L443.9 372.9L443.9 374.2L443.9 368.4L443.9 367.9L443.9 365.5L444.0 367.8L444.0 366.5L444.0 368.4L444.0 369.2L444.0 358.6L444.0 362.2L444.1 369.3L444.1 366.1L444.1 364.7L444.1 365.9L444.1 366.9L444.2 361.0L444.2 361.7L444.2 357.2L444.2 359.5L444.2 367.0L444.3 362.6L444.3 371.3L444.3 370.0L444.3 375.4L444.3 368.5L444.3 372.4L444.4 361.1L444.4 356.1L444.4 356.4L444.4 362.7L444.4 361.1L444.5 363.6L444.5 364.4L444.5 367.1L444.5 367.7L444.5 367.6L444.5 367.0L444.6 369.0L444.6 360.2L444.6 366.3L444.6 364.9L444.6 372.9L444.7 369.6L444.7 365.3L444.7 365.6L444.7 362.3L444.7 364.7L444.8 371.6L444.8 368.9L444.8 367.0L444.8 366.0L444.8 360.1L444.8 362.8L444.9 365.9L444.9 367.2L444.9 367.8L444.9 363.0L444.9 363.1L445.0 359.7L445.0 360.8L445.0 363.7L445.0 366.4L445.0 363.4L445.1 365.8L445.1 370.7L445.1 377.4L445.1 365.8L445.1 364.2L445.1 361.5L445.2 362.8L445.2 364.6L445.2 365.1L445.2 361.8L445.2 361.7L445.3 366.6L445.3 368.4L445.3 361.5L445.3 365.6L445.3 369.9L445.3 363.9L445.4 359.8L445.4 356.0L445.4 357.1L445.4 359.9L445.4 363.5L445.5 368.1L445.5 376.9L445.5 370.1L445.5 370.4L445.5 366.9L445.6 359.8L445.6 362.5L445.6 369.1L445.6 368.6L445.6 366.1L445.6 366.4L445.7 363.8L445.7 358.4L445.7 363.2L445.7 367.0L445.7 369.3L445.8 362.9L445.8 364.6L445.8 363.4L445.8 358.8L445.8 360.0L445.8 369.2L445.9 375.4L445.9 367.7L445.9 360.6L445.9 361.2L445.9 362.9L446.0 365.9L446.0 368.3L446.0 378.5L446.0 372.5L446.0 371.5L446.0 370.9L446.1 365.8L446.1 364.0L446.1 362.9L446.1 365.5L446.1 361.2L446.2 361.5L446.2 373.5L446.2 373.5L446.2 362.2L446.2 365.1L446.3 370.9L446.3 360.8L446.3 357.8L446.3 373.1L446.3 364.4L446.3 362.5L446.4 359.3L446.4 360.1L446.4 368.8L446.4 369.0L446.4 370.9L446.5 369.7L446.5 371.7L446.5 360.6L446.5 359.2L446.5 369.1L446.5 373.3L446.6 365.3L446.6 363.7L446.6 363.5L446.6 360.5L446.6 362.5L446.7 368.6L446.7 375.4L446.7 370.2L446.7 362.4L446.7 374.0L446.7 372.4L446.8 368.2L446.8 364.8L446.8 359.5L446.8 369.6L446.8 378.2L446.9 373.0L446.9 369.7L446.9 376.7L446.9 364.9L446.9 369.1L446.9 367.7L447.0 360.2L447.0 357.9L447.0 364.0L447.0 370.9L447.0 370.8L447.1 366.9L447.1 364.9L447.1 369.7L447.1 376.9L447.1 363.0L447.1 373.0L447.2 368.1L447.2 370.3L447.2 368.0L447.2 370.6L447.2 360.0L447.3 361.7L447.3 366.8L447.3 372.4L447.3 367.3L447.3 368.9L447.3 369.7L447.4 364.4L447.4 356.4L447.4 362.8L447.4 367.7L447.4 362.7L447.5 368.2L447.5 372.1L447.5 365.9L447.5 364.6L447.5 365.8L447.5 378.8L447.6 366.6L447.6 368.4L447.6 366.5L447.6 360.1L447.6 367.4L447.7 361.1L447.7 357.4L447.7 363.3L447.7 367.2L447.7 367.6L447.7 370.8L447.8 370.9L447.8 368.3L447.8 365.7L447.8 365.1L447.8 364.2L447.9 359.7L447.9 366.3L447.9 369.5L447.9 358.8L447.9 365.9L447.9 369.9L448.0 372.3L448.0 365.1L448.0 378.9L448.0 364.6L448.0 360.2L448.0 366.5L448.1 370.8L448.1 369.6L448.1 369.8L448.1 368.4L448.1 362.7L448.2 363.6L448.2 367.6L448.2 364.5L448.2 359.2L448.2 368.1L448.2 369.3L448.3 370.2L448.3 366.4L448.3 367.9L448.3 367.6L448.3 372.0L448.4 361.0L448.4 364.0L448.4 367.6L448.4 376.9L448.4 375.9L448.4 364.3L448.5 368.8L448.5 359.3L448.5 364.4L448.5 366.7L448.5 369.5L448.6 369.0L448.6 362.9L448.6 361.3L448.6 362.2L448.6 363.7L448.6 363.6L448.7 369.0L448.7 363.8L448.7 366.1L448.7 366.0L448.7 368.4L448.7 374.1L448.8 367.1L448.8 366.1L448.8 370.2L448.8 373.0L448.8 376.1L448.9 362.1L448.9 363.0L448.9 365.8L448.9 366.6L448.9 368.5L448.9 361.6L449.0 363.7L449.0 375.0L449.0 366.5L449.0 368.8L449.0 372.0L449.1 361.0L449.1 360.1L449.1 370.0L449.1 372.6L449.1 371.5L449.1 365.5L449.2 364.1L449.2 370.7L449.2 369.0L449.2 362.2L449.2 364.7L449.2 364.7L449.3 365.0L449.3 368.2L449.3 367.8L449.3 364.4L449.3 370.5L449.4 384.4L449.4 382.4L449.4 365.4L449.4 367.9L449.4 366.4L449.4 372.5L449.5 372.3L449.5 367.2L449.5 365.4L449.5 365.8L449.5 365.0L449.5 360.2L449.6 357.5L449.6 362.4L449.6 369.9L449.6 366.0L449.6 361.9L449.7 362.3L449.7 365.5L449.7 366.1L449.7 363.3L449.7 362.8L449.7 366.0L449.8 363.8L449.8 361.3L449.8 364.2L449.8 360.7L449.8 361.0L449.9 369.8L449.9 363.8L449.9 361.9L449.9 365.1L449.9 366.2L449.9 364.3L450.0 363.4L450.0 360.4L450.0 363.3L450.0 365.1L450.0 362.8L450.0 364.9L450.1 369.2L450.1 359.1L450.1 357.3L450.1 358.0L450.1 357.1L450.2 352.9L450.2 358.2L450.2 364.5L450.2 372.4L450.2 370.0L450.2 372.7L450.3 366.3L450.3 373.1L450.3 364.5L450.3 363.2L450.3 367.1L450.3 371.4L450.4 375.5L450.4 368.1L450.4 371.7L450.4 372.2L450.4 360.1L450.5 360.5L450.5 364.2L450.5 367.9L450.5 357.2L450.5 361.1L450.5 373.5L450.6 366.2L450.6 364.1L450.6 366.2L450.6 364.0L450.6 368.6L450.6 365.9L450.7 364.1L450.7 362.2L450.7 368.6L450.7 373.5L450.7 373.2L450.7 365.8L450.8 368.1L450.8 368.4L450.8 370.4L450.8 365.7L450.8 359.9L450.9 361.8L450.9 367.3L450.9 366.9L450.9 366.3L450.9 360.8L450.9 367.0L451.0 364.1L451.0 363.5L451.0 366.4L451.0 366.8L451.0 366.8L451.0 366.2L451.1 373.8L451.1 366.9L451.1 377.8L451.1 373.3L451.1 364.5L451.2 360.8L451.2 364.6L451.2 365.8L451.2 370.2L451.2 361.9L451.2 362.2L451.3 369.6L451.3 371.2L451.3 367.4L451.3 365.0L451.3 376.7L451.3 369.4L451.4 364.3L451.4 376.8L451.4 372.1L451.4 363.3L451.4 365.5L451.4 367.1L451.5 370.3L451.5 365.8L451.5 364.3L451.5 367.9L451.5 370.9L451.6 373.9L451.6 374.1L451.6 372.7L451.6 374.9L451.6 370.8L451.6 372.8L451.7 363.4L451.7 360.5L451.7 364.6L451.7 365.7L451.7 359.9L451.7 357.8L451.8 365.0L451.8 369.1L451.8 363.2L451.8 361.5L451.8 362.0L451.8 368.5L451.9 369.1L451.9 367.9L451.9 372.6L451.9 369.8L451.9 365.1L452.0 367.7L452.0 370.8L452.0 373.5L452.0 375.8L452.0 362.8L452.0 364.1L452.1 370.7L452.1 359.6L452.1 362.4L452.1 360.2L452.1 362.0L452.1 366.0L452.2 370.5L452.2 368.5L452.2 368.4L452.2 366.7L452.2 370.3L452.2 373.1L452.3 375.2L452.3 375.5L452.3 374.0L452.3 371.1L452.3 370.2L452.3 366.3L452.4 367.9L452.4 366.7L452.4 378.4L452.4 369.8L452.4 370.1L452.5 368.8L452.5 367.5L452.5 373.1L452.5 369.7L452.5 359.5L452.5 362.2L452.6 365.3L452.6 371.5L452.6 369.7L452.6 382.5L452.6 373.9L452.6 366.0L452.7 365.0L452.7 371.9L452.7 370.0L452.7 366.7L452.7 370.4L452.7 365.8L452.8 364.7L452.8 365.1L452.8 365.0L452.8 369.0L452.8 368.3L452.8 363.1L452.9 363.7L452.9 363.2L452.9 364.0L452.9 368.9L452.9 373.0L452.9 380.4L453.0 365.4L453.0 358.2L453.0 361.9L453.0 368.1L453.0 362.2L453.1 365.1L453.1 361.3L453.1 362.2L453.1 362.3L453.1 359.6L453.1 360.7L453.2 368.9L453.2 369.7L453.2 364.3L453.2 367.7L453.2 381.0L453.2 369.3L453.3 368.7L453.3 373.0L453.3 373.7L453.3 374.0L453.3 369.4L453.3 365.9L453.4 372.2L453.4 382.9L453.4 370.0L453.4 369.9L453.4 365.0L453.4 363.5L453.5 375.5L453.5 367.9L453.5 358.6L453.5 361.6L453.5 376.2L453.5 368.2L453.6 362.0L453.6 366.3L453.6 370.5L453.6 371.9L453.6 367.9L453.7 365.6L453.7 361.8L453.7 364.9L453.7 366.5L453.7 371.6L453.7 372.5L453.8 369.5L453.8 362.4L453.8 360.9L453.8 366.1L453.8 363.2L453.8 362.5L453.9 365.3L453.9 366.6L453.9 366.0L453.9 369.7L453.9 371.2L453.9 361.8L454.0 361.6L454.0 365.2L454.0 366.3L454.0 366.7L454.0 365.3L454.0 366.8L454.1 367.3L454.1 365.9L454.1 359.9L454.1 362.5L454.1 367.4L454.1 367.4L454.2 363.6L454.2 362.4L454.2 364.7L454.2 361.4L454.2 360.4L454.2 365.5L454.3 365.8L454.3 367.6L454.3 367.9L454.3 370.0L454.3 363.6L454.3 359.2L454.4 360.9L454.4 361.5L454.4 366.4L454.4 363.0L454.4 359.0L454.4 364.3L454.5 368.7L454.5 367.7L454.5 363.1L454.5 362.6L454.5 371.6L454.5 365.0L454.6 374.3L454.6 368.1L454.6 364.6L454.6 373.4L454.6 372.7L454.6 377.2L454.7 371.2L454.7 367.9L454.7 363.7L454.7 365.4L454.7 371.1L454.8 364.1L454.8 359.0L454.8 359.0L454.8 364.7L454.8 367.0L454.8 361.3L454.9 360.6L454.9 358.8L454.9 359.3L454.9 364.0L454.9 368.9L454.9 382.7L455.0 371.5L455.0 366.3L455.0 365.2L455.0 362.9L455.0 369.7L455.0 368.0L455.1 370.0L455.1 361.1L455.1 365.1L455.1 374.3L455.1 364.1L455.1 365.2L455.2 371.9L455.2 365.7L455.2 365.8L455.2 369.7L455.2 362.7L455.2 362.0L455.3 367.1L455.3 369.2L455.3 364.6L455.3 365.1L455.3 368.5L455.3 363.6L455.4 365.7L455.4 370.1L455.4 369.3L455.4 363.5L455.4 363.9L455.4 361.1L455.5 357.3L455.5 362.9L455.5 368.6L455.5 377.8L455.5 364.0L455.5 369.6L455.6 370.4L455.6 366.4L455.6 367.5L455.6 370.3L455.6 367.8L455.6 363.3L455.7 365.9L455.7 364.6L455.7 365.6L455.7 369.9L455.7 369.1L455.7 365.6L455.8 369.0L455.8 365.1L455.8 371.8L455.8 382.6L455.8 375.8L455.8 361.2L455.9 366.0L455.9 367.2L455.9 361.3L455.9 354.1L455.9 357.8L455.9 360.9L456.0 367.7L456.0 376.0L456.0 378.4L456.0 373.3L456.0 365.6L456.0 362.1L456.1 358.0L456.1 361.4L456.1 363.9L456.1 365.2L456.1 379.9L456.1 370.1L456.2 364.0L456.2 368.8L456.2 378.7L456.2 362.3L456.2 364.4L456.2 374.7L456.3 372.6L456.3 370.0L456.3 373.7L456.3 366.9L456.3 367.3L456.3 367.1L456.4 362.8L456.4 360.6L456.4 359.0L456.4 364.0L456.4 365.2L456.4 369.3L456.5 367.2L456.5 360.2L456.5 358.6L456.5 363.8L456.5 368.0L456.5 369.1L456.6 374.2L456.6 363.2L456.6 364.9L456.6 368.8L456.6 367.9L456.6 364.3L456.7 365.7L456.7 366.5L456.7 366.7L456.7 364.1L456.7 364.5L456.7 364.3L456.8 370.9L456.8 362.2L456.8 366.7L456.8 370.1L456.8 369.3L456.8 376.9L456.8 368.4L456.9 357.4L456.9 358.8L456.9 362.4L456.9 368.5L456.9 365.7L456.9 367.9L457.0 364.2L457.0 369.7L457.0 368.8L457.0 361.1L457.0 368.8L457.0 371.6L457.1 372.5L457.1 364.4L457.1 356.3L457.1 356.8L457.1 361.4L457.1 363.5L457.2 365.2L457.2 358.7L457.2 359.4L457.2 364.8L457.2 360.7L457.2 356.9L457.3 359.6L457.3 360.1L457.3 366.7L457.3 367.3L457.3 362.4L457.3 362.5L457.4 361.2L457.4 357.7L457.4 357.2L457.4 361.3L457.4 369.2L457.4 365.8L457.5 368.8L457.5 361.7L457.5 362.6L457.5 366.7L457.5 365.2L457.5 362.4L457.6 363.0L457.6 370.3L457.6 362.2L457.6 364.4L457.6 368.5L457.6 365.1L457.7 367.3L457.7 363.8L457.7 357.7L457.7 363.7L457.7 369.9L457.7 372.0L457.8 363.6L457.8 360.4L457.8 361.4L457.8 364.9L457.8 367.0L457.8 368.1L457.9 371.2L457.9 366.3L457.9 359.2L457.9 360.8L457.9 366.2L457.9 370.9L457.9 365.2L458.0 362.7L458.0 364.7L458.0 369.5L458.0 374.8L458.0 372.8L458.0 370.9L458.1 366.4L458.1 366.3L458.1 366.6L458.1 369.8L458.1 372.6L458.1 370.8L458.2 370.6L458.2 374.3L458.2 363.3L458.2 361.4L458.2 362.7L458.2 363.8L458.3 369.2L458.3 380.5L458.3 375.8L458.3 369.4L458.3 371.8L458.3 372.1L458.4 376.4L458.4 371.9L458.4 365.7L458.4 363.6L458.4 367.6L458.4 369.3L458.5 367.7L458.5 368.2L458.5 366.6L458.5 365.0L458.5 374.3L458.5 369.4L458.6 365.2L458.6 363.6L458.6 366.7L458.6 362.8L458.6 370.7L458.6 373.5L458.6 368.8L458.7 366.3L458.7 364.8L458.7 354.8L458.7 359.8L458.7 363.4L458.7 366.8L458.8 366.6L458.8 360.3L458.8 358.7L458.8 359.9L458.8 368.9L458.8 371.1L458.9 363.3L458.9 361.7L458.9 367.4L458.9 368.0L458.9 372.4L458.9 373.4L459.0 371.8L459.0 362.1L459.0 357.8L459.0 360.5L459.0 369.4L459.0 363.7L459.1 364.6L459.1 372.4L459.1 365.9L459.1 361.2L459.1 366.5L459.1 365.6L459.1 365.1L459.2 375.9L459.2 371.5L459.2 365.0L459.2 362.4L459.2 364.6L459.2 363.3L459.3 372.2L459.3 368.5L459.3 365.4L459.3 371.4L459.3 369.1L459.3 363.0L459.4 363.4L459.4 372.6L459.4 379.6L459.4 374.4L459.4 366.1L459.4 359.5L459.5 359.6L459.5 372.5L459.5 374.1L459.5 365.2L459.5 363.5L459.5 369.6L459.6 363.4L459.6 363.9L459.6 366.0L459.6 363.6L459.6 357.6L459.6 360.1L459.6 365.3L459.7 371.0L459.7 362.1L459.7 358.2L459.7 366.1L459.7 373.1L459.7 366.3L459.8 368.2L459.8 368.7L459.8 361.9L459.8 359.7L459.8 362.5L459.8 370.0L459.9 364.0L459.9 362.5L459.9 366.6L459.9 373.3L459.9 364.0L459.9 373.9L460.0 376.3L460.0 369.1L460.0 361.1L460.0 359.9L460.0 372.5L460.0 376.0L460.0 371.4L460.1 363.0L460.1 364.5L460.1 362.6L460.1 360.6L460.1 365.4L460.1 365.8L460.2 367.0L460.2 373.1L460.2 366.8L460.2 369.0L460.2 366.1L460.2 371.9L460.3 366.5L460.3 365.0L460.3 367.0L460.3 368.0L460.3 365.6L460.3 364.2L460.3 367.3L460.4 369.3L460.4 373.0L460.4 362.7L460.4 360.0L460.4 359.0L460.4 361.9L460.5 369.9L460.5 363.5L460.5 358.3L460.5 356.4L460.5 360.3L460.5 367.7L460.6 363.3L460.6 358.1L460.6 357.9L460.6 362.1L460.6 359.7L460.6 359.7L460.7 368.4L460.7 359.6L460.7 361.0L460.7 362.1L460.7 364.9L460.7 364.5L460.7 362.4L460.8 363.6L460.8 367.7L460.8 364.6L460.8 368.5L460.8 367.7L460.8 361.6L460.9 358.0L460.9 360.0L460.9 365.2L460.9 370.8L460.9 374.1L460.9 363.1L461.0 366.2L461.0 378.8L461.0 365.6L461.0 362.0L461.0 365.9L461.0 363.8L461.0 358.6L461.1 357.8L461.1 359.7L461.1 362.2L461.1 362.3L461.1 362.9L461.1 360.1L461.2 366.8L461.2 367.2L461.2 368.6L461.2 366.0L461.2 361.1L461.2 360.6L461.3 368.2L461.3 369.6L461.3 360.9L461.3 360.7L461.3 371.6L461.3 378.6L461.3 374.9L461.4 365.2L461.4 360.8L461.4 363.4L461.4 368.6L461.4 365.8L461.4 364.4L461.5 363.7L461.5 364.8L461.5 361.3L461.5 364.9L461.5 371.0L461.5 360.9L461.6 359.9L461.6 367.8L461.6 371.6L461.6 361.7L461.6 366.1L461.6 370.1L461.6 371.0L461.7 370.5L461.7 371.1L461.7 369.9L461.7 370.4L461.7 372.1L461.7 368.4L461.8 366.2L461.8 364.5L461.8 373.5L461.8 365.6L461.8 368.6L461.8 368.4L461.9 365.4L461.9 371.8L461.9 365.7L461.9 359.1L461.9 357.4L461.9 364.3L461.9 383.1L462.0 368.6L462.0 364.2L462.0 373.0L462.0 367.3L462.0 373.8L462.0 370.3L462.1 366.9L462.1 363.0L462.1 364.9L462.1 364.6L462.1 365.6L462.1 367.8L462.1 371.5L462.2 366.0L462.2 368.5L462.2 364.5L462.2 363.8L462.2 365.1L462.2 368.5L462.3 369.5L462.3 367.0L462.3 367.0L462.3 362.0L462.3 360.4L462.3 371.1L462.4 366.9L462.4 365.6L462.4 366.2L462.4 367.2L462.4 363.7L462.4 356.6L462.4 358.2L462.5 363.5L462.5 373.4L462.5 364.5L462.5 360.5L462.5 374.5L462.5 369.7L462.6 372.5L462.6 366.8L462.6 366.1L462.6 372.8L462.6 371.4L462.6 369.2L462.6 366.2L462.7 368.9L462.7 369.6L462.7 366.6L462.7 363.9L462.7 370.6L462.7 368.6L462.8 363.8L462.8 362.6L462.8 367.2L462.8 367.8L462.8 364.8L462.8 371.2L462.8 366.9L462.9 361.3L462.9 367.7L462.9 370.0L462.9 366.0L462.9 366.1L462.9 373.6L463.0 368.3L463.0 374.6L463.0 367.1L463.0 360.2L463.0 361.0L463.0 366.9L463.1 361.0L463.1 365.2L463.1 369.2L463.1 364.3L463.1 368.8L463.1 365.1L463.1 369.5L463.2 362.9L463.2 358.8L463.2 359.1L463.2 364.0L463.2 360.3L463.2 359.7L463.3 362.5L463.3 366.4L463.3 366.5L463.3 368.4L463.3 365.8L463.3 361.9L463.3 371.4L463.4 379.2L463.4 379.2L463.4 367.6L463.4 357.3L463.4 363.6L463.4 366.7L463.5 372.0L463.5 369.2L463.5 373.5L463.5 372.1L463.5 369.6L463.5 371.6L463.5 379.2L463.6 379.2L463.6 372.1L463.6 375.1L463.6 375.7L463.6 363.2L463.6 361.9L463.7 368.9L463.7 365.9L463.7 367.2L463.7 369.2L463.7 371.0L463.7 372.8L463.7 380.2L463.8 364.1L463.8 361.1L463.8 359.2L463.8 361.6L463.8 368.5L463.8 362.8L463.9 365.8L463.9 368.3L463.9 368.4L463.9 363.5L463.9 367.8L463.9 370.2L463.9 367.2L464.0 371.7L464.0 367.8L464.0 365.2L464.0 366.6L464.0 366.9L464.0 361.7L464.1 359.4L464.1 361.2L464.1 365.7L464.1 369.6L464.1 371.3L464.1 363.8L464.1 362.7L464.2 369.5L464.2 366.4L464.2 364.5L464.2 362.6L464.2 367.4L464.2 368.0L464.3 369.7L464.3 368.7L464.3 369.1L464.3 363.3L464.3 359.1L464.3 361.5L464.3 362.6L464.4 365.3L464.4 366.8L464.4 365.5L464.4 366.6L464.4 364.6L464.4 358.2L464.5 360.8L464.5 368.6L464.5 370.8L464.5 364.4L464.5 374.4L464.5 374.2L464.5 364.2L464.6 370.7L464.6 365.0L464.6 363.5L464.6 367.7L464.6 364.0L464.6 365.9L464.6 376.4L464.7 368.2L464.7 363.0L464.7 362.6L464.7 361.5L464.7 367.8L464.7 371.3L464.8 363.3L464.8 362.0L464.8 374.3L464.8 368.3L464.8 360.9L464.8 363.4L464.8 370.1L464.9 363.2L464.9 364.4L464.9 369.1L464.9 370.0L464.9 362.9L464.9 367.3L465.0 366.5L465.0 376.8L465.0 364.0" stroke="url(#ng)" stroke-width="0.9" stroke-linejoin="round"/>
<path d="M465.0 364.0L465.5 362.8V356.4V379.5V357.9L466.5 361.2V374.8V355.6V363.2L467.5 363.9V356.1V379.2V359.2L468.5 366.9V379.2V357.7V369.1L469.5 370.4V380.3V357.6V366.3L470.5 360.4V393.2V353.9V364.2L471.5 375.8V379.9V358.4V369.7L472.5 373.6V357.4V378.4V367.6L473.5 369.8V358.6V379.3V373.6L474.5 379.3V358.9V383.0V363.1L475.5 365.6V380.4V358.2V362.8L476.5 367.3V381.4V358.6V371.4L477.5 369.4V378.4V356.0V360.0L478.5 362.1V356.6V388.2V361.5L479.5 371.2V358.1V382.9V366.7L480.5 365.3V357.3V383.0V364.8L481.5 366.9V359.8V381.4V366.0L482.5 365.1V355.8V380.9V367.8L483.5 366.2V382.7V355.8V368.9L484.5 374.2V357.9V380.9V373.0L485.5 367.0V377.9V360.1V360.2L486.5 367.2V355.8V380.6V371.4L487.5 376.8V382.5V356.7V357.6L488.5 369.0V360.1V383.4V365.4L489.5 367.1V357.1V376.1V362.1L490.5 363.9V361.5V384.0V363.9L491.5 364.3V358.6V381.5V367.8L492.5 370.8V378.9V357.6V377.8L493.5 376.1V356.1V381.3V381.3L494.5 366.2V360.1V386.6V371.0L495.5 371.5V359.5V384.3V370.3L496.5 367.5V358.8V380.0V374.1L497.5 363.2V355.8V380.4V367.2L498.5 363.4V381.3V360.8V372.2L499.5 371.2V359.6V382.3V361.1L500.5 366.5V360.1V382.8V366.2L501.5 364.3V358.9V384.1V378.0L502.5 369.1V355.1V380.0V362.6L503.5 369.8V381.7V357.5V364.3L504.5 361.2V377.3V359.6V367.4L505.5 364.6V379.1V357.1V361.0L506.5 361.6V383.2V358.6V367.3L507.5 364.9V357.8V380.8V372.0L508.5 375.0V379.5V356.2V356.2L509.5 357.7V356.8V379.8V364.6L510.5 363.2V359.0V384.3V368.5L511.5 367.9V359.3V382.3V370.6L512.5 367.4V382.9V358.8V374.2L513.5 376.9V379.7V357.0V365.6L514.5 367.1V377.7V356.0V367.6L515.5 370.6V392.3V355.0V363.9L516.5 368.1V360.7V379.7V365.8L517.5 361.9V387.2V356.8V370.6L518.5 366.1V378.1V360.1V370.3L519.5 374.5V380.4V357.3V360.4L520.5 364.1V360.5V386.2V365.4L521.5 369.8V357.4V383.4V365.3L522.5 375.1V384.3V358.7V373.2L523.5 373.4V358.2V380.1V373.7L524.5 370.1V379.5V359.3V370.5L525.5 365.6V358.1V382.3V367.2L526.5 363.9V381.5V354.8V368.4L527.5 366.1V379.9V355.2V367.5L528.5 365.1V381.3V358.1V370.9L529.5 370.4V358.6V382.5V368.3L530.5 369.5V381.2V357.9V373.6L531.5 372.1V360.4V383.2V367.2L532.5 365.2V359.8V381.3V374.1L533.5 367.6V356.6V381.2V365.9L534.5 362.4V377.6V357.0V360.9L535.5 365.3V381.8V356.5V367.1L536.5 360.4V359.4V378.8V370.7L537.5 368.2V356.3V386.8V362.9L538.5 364.0V359.1V379.2V367.5L539.5 372.9V359.6V386.5V363.2L540.5 364.8V359.2V385.4V360.0L541.5 357.6V357.6V380.6V374.6L542.5 363.7V357.5V380.3V366.2L543.5 365.3V386.9V357.2V370.8L544.5 370.3V381.9V357.4V368.6L545.5 360.2V358.8V382.7V363.9L546.5 364.7V358.0V388.3V363.5L547.5 365.9V355.2V383.8V375.3L548.5 380.8V386.9V356.4V370.1L549.5 373.2V379.8V357.7V366.0L550.5 360.3V385.0V358.0V367.0L551.5 361.2V384.2V356.4V365.3L552.5 365.5V358.5V380.4V365.2L553.5 372.8V357.4V385.0V361.1L554.5 365.0V385.0V356.8V370.0L555.5 369.9V381.3V359.7V366.3L556.5 387.4V387.4V357.1V366.1L557.5 370.0V357.4V382.2V367.2L558.5 372.4V382.2V358.6V365.4L559.5 366.5V358.9V388.3V363.1L560.5 365.9V377.7V359.1V372.9L561.5 373.5V388.7V358.9V364.2L562.5 360.9V358.3V384.5V363.6L563.5 367.6V383.0V357.4V370.0L564.5 369.6V382.9V356.5V379.8L565.5 373.5V358.6V386.9V370.5L566.5 374.6V357.1V383.3V369.2L567.5 376.2V358.7V387.4V367.8L568.5 364.2V381.9V358.3V377.7L569.5 381.1V357.4V381.8V369.0L570.5 371.6V358.9V382.1V368.3L571.5 371.6V357.9V385.9V360.0L572.5 362.0V383.1V358.0V375.5L573.5 366.2V358.6V382.9V364.4L574.5 370.1V359.5V384.4V374.9L575.5 378.7V357.9V387.4V368.1L576.5 380.9V355.5V384.4V364.6L577.5 369.6V355.3V395.4V364.7L578.5 364.1V383.0V357.6V373.9L579.5 375.4V356.7V383.7V365.2L580.5 368.7V359.6V383.7V366.4L581.5 380.5V382.8V358.5V371.2L582.5 372.8V382.3V356.7V366.0L583.5 370.4V355.7V387.4V361.1L584.5 364.2V357.0V385.9V361.8L585.5 368.0V389.9V356.3V361.6L586.5 370.6V358.5V385.7V369.3L587.5 367.6V390.4V357.4V357.4L588.5 365.7V383.3V357.0V370.2L589.5 368.6V357.0V387.4V370.9L590.5 364.9V387.9V359.0V362.0L591.5 360.5V385.2V356.0V368.1L592.5 365.0V382.3V356.4V379.0L593.5 370.2V384.8V356.3V366.1L594.5 370.2V358.6V388.4V370.4L595.5 365.3V357.9V383.6V373.3L596.5 364.9V391.3V355.6V366.8L597.5 362.6V357.2V386.6V366.9L598.5 372.7V357.0V382.7V368.4L599.5 373.0V386.1V356.9V371.9L600.5 368.1V359.2V383.2V368.4L601.5 374.1V384.2V358.0V362.3L602.5 361.9V386.1V356.3V371.4L603.5 373.9V382.6V357.7V380.8L604.5 374.4V380.1V357.3V367.2L605.5 360.6V359.1V383.3V376.1L606.5 373.4V383.1V357.2V364.0L607.5 361.3V356.4V380.7V362.9L608.5 364.0V387.1V358.4V371.6L609.5 373.7V357.3V386.2V358.7L610.5 363.9V381.2V356.6V370.4L611.5 366.3V388.7V359.8V370.7L612.5 369.2V356.9V384.1V364.0L613.5 362.4V357.8V392.7V376.0L614.5 375.9V356.8V387.7V364.6L615.5 368.1V358.0V386.6V373.7L616.5 370.3V386.0V355.5V367.1L617.5 363.9V384.3V357.7V363.5L618.5 361.7V386.8V359.0V364.7L619.5 370.8V380.4V357.2V377.3L620.5 368.8V382.4V357.5V364.8L621.5 363.9V356.1V393.7V365.5L622.5 365.5V383.9V356.6V359.3L623.5 357.6V357.6V388.8V366.2L624.5 371.8V357.7V385.5V367.2L625.5 365.5V384.2V356.7V366.9L626.5 367.2V357.5V389.5V373.8L627.5 370.1V357.6V383.2V372.9L628.5 370.9V382.3V356.0V364.9L629.5 382.0V355.8V384.6V365.4L630.5 363.4V356.0V383.7V367.7L631.5 372.5V399.0V357.4V365.1L632.5 368.7V388.0V357.2V370.9L633.5 369.8V384.3V357.3V368.3L634.5 367.2V357.7V387.2V360.8L635.5 365.5V389.4V357.1V369.7L636.5 363.8V354.7V388.7V371.6L637.5 373.5V384.4V353.8V371.3L638.5 366.2V358.1V384.5V370.5L639.5 362.0V356.4V383.0V376.1L640.5 365.2V358.9V390.7V371.6L641.5 365.8V384.7V357.7V368.4L642.5 364.7V358.1V382.3V363.2L643.5 373.0V390.8V355.6V368.6L644.5 370.2V390.4V356.8V361.3L645.5 367.4V357.8V405.8V359.8L646.5 362.5V356.0V384.0V367.8L647.5 367.9V357.0V383.6V373.6L648.5 371.5V355.0V382.2V364.5L649.5 364.0V355.1V384.3V378.7L650.5 378.1V392.2V356.7V368.0L651.5 378.5V384.6V355.1V367.6L652.5 365.3V390.0V357.5V365.3L653.5 367.8V386.9V355.8V370.1L654.5 367.7V384.5V354.8V373.8L655.5 381.1V355.9V384.9V362.7L656.5 374.4V389.4V357.2V361.0L657.5 365.7V353.3V386.8V367.6L658.5 365.0V389.9V357.5V366.9L659.5 359.7V382.4V355.1V366.3L660.5 369.6V394.4V354.3V363.7L661.5 363.6V389.8V353.8V360.6L662.5 359.3V388.0V355.8V373.5L663.5 378.4V383.5V355.1V368.4L664.5 374.1V387.5V354.5V365.2L665.5 359.8V381.3V355.4V361.8L666.5 371.6V354.4V383.2V378.4L667.5 373.2V385.0V355.0V366.0L668.5 369.3V386.0V354.8V372.1L669.5 369.5V386.3V353.6V366.1L670.5 368.0V356.8V387.5V359.6L671.5 359.1V357.1V385.4V362.0L672.5 364.0V355.6V384.6V367.1L673.5 366.2V354.0V383.0V361.8L674.5 365.4V356.5V384.8V369.7L675.5 364.3V356.5V381.9V362.2L676.5 358.5V356.7V385.9V365.3L677.5 365.2V355.2V392.7V366.6L678.5 367.6V386.0V356.0V378.9L679.5 371.5V390.6V356.1V364.2L680.5 365.6V353.2V380.7V365.2L681.5 365.9V388.6V355.9V373.1L682.5 372.9V355.8V390.8V364.5L683.5 364.7V356.1V386.5V372.3L684.5 365.8V386.8V354.9V367.4L685.5 369.6V356.1V394.1V376.5L686.5 369.9V355.3V387.1V363.6L687.5 369.0V355.1V385.8V362.3L688.5 376.1V386.3V353.0V369.5L689.5 370.0V356.5V382.9V364.9L690.5 368.3V385.5V355.5V366.1L691.5 368.2V386.1V355.5V365.3L692.5 369.2V353.4V391.3V360.0L693.5 359.4V355.1V383.5V372.3L694.5 365.5V385.3V355.6V362.3L695.5 359.6V354.7V386.0V366.4L696.5 372.4V353.2V386.6V369.7L697.5 367.9V355.8V382.7V367.8L698.5 363.1V355.1V387.3V376.4L699.5 361.3V385.8V355.6V366.3L700.5 365.4V355.6V385.1V365.2L701.5 369.8V384.5V355.1V361.0L702.5 364.1V386.5V354.2V361.1L703.5 367.8V395.2V355.6V365.5L704.5 368.6V388.9V354.0V367.6L705.5 366.9V354.5V388.2V365.5L706.5 363.2V388.7V355.3V359.9L707.5 360.4V394.5V355.0V369.5L708.5 363.3V385.2V356.0V361.7L709.5 359.3V394.7V355.4V371.5L710.5 368.4V353.7V381.8V366.0L711.5 358.2V387.8V354.1V380.3L712.5 375.2V356.1V382.8V362.2L713.5 365.2V387.3V353.1V375.4L714.5 367.5V356.1V381.9V368.0L715.5 372.5V354.4V387.8V371.6L716.5 360.4V391.9V354.8V365.5L717.5 365.8V352.7V394.2V363.8L718.5 364.8V354.1V389.1V361.2L719.5 360.6V382.4V354.6V366.8L720.5 365.5V383.9V355.5V365.3L721.5 371.1V388.4V354.8V365.3L722.5 369.6V391.7V354.6V360.5L723.5 362.9V354.1V383.0V359.8L724.5 363.4V352.3V382.9V363.5L725.5 362.0V385.6V353.4V364.2L726.5 359.7V353.6V384.0V364.2L727.5 369.1V393.9V355.3V365.1L728.5 362.9V389.5V352.7V370.7L729.5 366.5V352.1V384.3V366.5L730.5 371.0V383.3V353.6V364.7L731.5 369.6V389.3V353.4V364.9L732.5 363.6V382.6V354.3V365.4L733.5 367.2V386.8V354.6V366.2L734.5 367.2V389.3V354.8V362.9L735.5 361.1V386.8V352.1V364.5L736.5 365.9V390.9V353.5V375.1L737.5 364.3V385.1V354.4V367.5L738.5 370.9V388.8V353.0V364.8L739.5 367.0V392.6V352.8V370.3L740.5 373.6V353.0V388.1V365.6L741.5 369.7V387.6V353.5V360.4L742.5 360.5V352.7V389.3V381.2L743.5 373.3V394.0V352.8V369.9L744.5 359.1V386.6V351.0V358.7L745.5 362.3V381.8V353.4V364.3" stroke="#ffff00" stroke-width="1"/>
<g stroke="#dcd400" stroke-width="1.2">
<line x1="123.5" y1="334.1" x2="123.5" y2="347.1"/>
<line x1="146.5" y1="335.1" x2="146.5" y2="349.4"/>
<line x1="274.5" y1="328.8" x2="274.5" y2="359.7"/>
<line x1="325.5" y1="331.5" x2="325.5" y2="362.5"/>
<line x1="359.5" y1="333.6" x2="359.5" y2="364.3"/>
<line x1="384.5" y1="337.0" x2="384.5" y2="365.5"/>
<line x1="404.5" y1="346.1" x2="404.5" y2="366.1"/>
<line x1="421.5" y1="349.7" x2="421.5" y2="366.6"/>
<line x1="515.5" y1="320.7" x2="515.5" y2="368.6"/>
<line x1="556.5" y1="311.1" x2="556.5" y2="368.8"/>
<line x1="607.5" y1="316.6" x2="607.5" y2="369.0"/>
<line x1="625.5" y1="351.9" x2="625.5" y2="368.9"/>
<line x1="649.5" y1="349.9" x2="649.5" y2="368.7"/>
<line x1="658.5" y1="348.7" x2="658.5" y2="368.6"/>
<line x1="666.5" y1="333.4" x2="666.5" y2="368.5"/>
<line x1="676.5" y1="351.3" x2="676.5" y2="368.4"/>
<line x1="682.5" y1="350.7" x2="682.5" y2="368.3"/>
<line x1="686.5" y1="343.0" x2="686.5" y2="368.2"/>
<line x1="689.5" y1="345.3" x2="689.5" y2="368.1"/>
<line x1="694.5" y1="336.4" x2="694.5" y2="367.9"/>
<line x1="698.5" y1="351.1" x2="698.5" y2="367.8"/>
<line x1="702.5" y1="316.2" x2="702.5" y2="367.7"/>
<line x1="701.5" y1="341.8" x2="701.5" y2="367.7"/>
<line x1="707.5" y1="345.3" x2="707.5" y2="367.6"/>
<line x1="710.5" y1="350.1" x2="710.5" y2="367.5"/>
<line x1="712.5" y1="341.8" x2="712.5" y2="367.4"/>
<line x1="717.5" y1="332.2" x2="717.5" y2="367.3"/>
<line x1="720.5" y1="345.1" x2="720.5" y2="367.2"/>
<line x1="724.5" y1="332.0" x2="724.5" y2="367.1"/>
<line x1="727.5" y1="343.6" x2="727.5" y2="367.0"/>
<line x1="729.5" y1="332.0" x2="729.5" y2="367.0"/>
<line x1="731.5" y1="344.1" x2="731.5" y2="366.9"/>
<line x1="735.5" y1="345.3" x2="735.5" y2="366.8"/>
<line x1="737.5" y1="339.4" x2="737.5" y2="366.8"/>
<line x1="740.5" y1="340.8" x2="740.5" y2="366.7"/>
<line x1="745.5" y1="340.3" x2="745.5" y2="366.5"/>
<line x1="376.5" y1="380.5" x2="376.5" y2="394.5" stroke="#e8e000" stroke-width="1"/>
<line x1="528.5" y1="389.6" x2="528.5" y2="403.6" stroke="#e8e000" stroke-width="1"/>
<line x1="680.5" y1="386.0" x2="680.5" y2="400.0" stroke="#e8e000" stroke-width="1"/>
<line x1="655.5" y1="381.0" x2="655.5" y2="395.0" stroke="#e8e000" stroke-width="1"/>
<line x1="686.5" y1="381.0" x2="686.5" y2="395.0" stroke="#e8e000" stroke-width="1"/>
<line x1="717.5" y1="381.0" x2="717.5" y2="395.0" stroke="#e8e000" stroke-width="1"/>
<line x1="437.5" y1="376.0" x2="437.5" y2="390.0" stroke="#e8e000" stroke-width="1"/>
<line x1="442.5" y1="375.0" x2="442.5" y2="389.0" stroke="#e8e000" stroke-width="1"/>
<line x1="57.5" y1="343.0" x2="57.5" y2="357.0" stroke="#e8e000" stroke-width="1"/>
<line x1="311.5" y1="364.0" x2="311.5" y2="378.0" stroke="#e8e000" stroke-width="1"/>
<line x1="404.5" y1="374.0" x2="404.5" y2="388.0" stroke="#e8e000" stroke-width="1"/>
</g>
<line x1="445.5" y1="82" x2="445.5" y2="360" stroke="#e4dc00" stroke-width="1.7"/>
</g>
<rect x="442" y="462" width="8" height="11" fill="#0cb00c"/>
<text x="443.6" y="470.2" font-family="Liberation Sans" font-size="9.5" fill="#0a3a0a" textLength="4.6" lengthAdjust="spacingAndGlyphs">F</text>
</svg>
<div class="t" style="left:15.6px;top:7.90px;transform:scaleX(0.9335)">FFT: 256k</div>
<div class="t" style="left:14.3px;top:17.80px;transform:scaleX(0.9934)">Avg: 4 of 4</div>
<div class="t" style="left:16.4px;top:28.00px;transform:scaleX(0.9206)">Res: 183 mHz</div>
<div class="t" style="left:15.8px;top:38.10px;transform:scaleX(0.9594)">Fs: 48.0 KHz</div>
<div class="t" style="left:16.4px;top:48.30px;transform:scaleX(0.9367)">Win: Hann</div>
<div class="t" style="left:15.8px;top:58.00px;transform:scaleX(0.9457)">Weight: None</div>
<div class="t" style="left:90.2px;top:7.90px;transform:scaleX(0.9477)">Meas Start: 20.0 Hz</div>
<div class="t" style="left:90.2px;top:17.80px;transform:scaleX(0.9699)">Meas Stop:20.0 KHz</div>
<div class="t" style="left:89.0px;top:27.90px;transform:scaleX(0.9583)">RMS L: 9.4 dBV</div>
<div class="t" style="left:89.0px;top:48.10px;transform:scaleX(0.9595)">N+D L: -76.8 dBV</div>
<div class="t" style="left:218.0px;top:7.90px;transform:scaleX(0.9547)">Peak L: 9.37 dBV</div>
<div class="t" style="left:219.3px;top:27.80px;transform:scaleX(0.938)">Peak L: 1.08 W (8.0 Ω)</div>
<div class="t" style="left:219.3px;top:48.20px;transform:scaleX(0.9317)">THD L: -103.9 dB/ 0.00064%</div>
<div class="t" style="left:341.25px;top:7.90px;transform:scaleX(0.9273)">Gen 1: 999.0234 Hz @ -18.00  dBV</div>
<div class="t g2" style="left:341.25px;top:17.90px;transform:scaleX(0.9294)">Gen 2:20.00006 KHz @ -35.13  dBV</div>
<div class="t" style="left:340.2px;top:27.70px;transform:scaleX(0.9463)">SNR L: 87.2 dB</div>
<div class="t" style="left:341.25px;top:48.55px;transform:scaleX(0.931)">THD+N L: -86.2 dB/ 0.00489%</div>
<div class="t" style="left:509.4px;top:7.90px;transform:scaleX(0.9566)">Phase L: 2.85 deg</div>
<div class="t" style="left:509.4px;top:28.10px;transform:scaleX(0.947)">Delay L: 3.10 uSec</div>
<div class="t" style="left:509.4px;top:48.30px;transform:scaleX(0.9458)">Gain L: 27.38 dB</div>
<div class="yl" style="top:75.40px">10.0</div>
<div class="yl" style="top:96.46px">0.0</div>
<div class="yl" style="top:117.53px">-10.0</div>
<div class="yl" style="top:138.59px">-20.0</div>
<div class="yl" style="top:159.65px">-30.0</div>
<div class="yl" style="top:180.72px">-40.0</div>
<div class="yl" style="top:201.78px">-50.0</div>
<div class="yl" style="top:222.84px">-60.0</div>
<div class="yl" style="top:243.91px">-70.0</div>
<div class="yl" style="top:264.97px">-80.0</div>
<div class="yl" style="top:286.03px">-90.0</div>
<div class="yl" style="top:307.09px">-100.0</div>
<div class="yl" style="top:328.16px">-110.0</div>
<div class="yl" style="top:349.22px">-120.0</div>
<div class="yl" style="top:370.28px">-130.0</div>
<div class="yl" style="top:391.35px">-140.0</div>
<div class="yl" style="top:412.41px">-150.0</div>
<div class="yl" style="top:433.47px">-160.0</div>
<div class="yl" style="top:454.54px">-170.0</div>
<div class="yl" style="top:475.60px">-180.0</div>
<div class="xl" style="left:186.30px">100</div>
<div class="xl" style="left:416.63px">1000</div>
<div class="xl" style="left:646.96px">10000</div>
<div class="t" style="left:57.4px;top:130.50px;font-size:10px;transform:scaleX(0.944)">ExtGains</div>
<div class="t" style="left:2px;top:275.5px;font-size:10px;transform:rotate(-90deg);transform-origin:center;width:22px;text-align:center;">dBV</div>

<!-- logo -->
<div style="position:absolute;left:656.2px;top:84.9px;width:31.6px;height:12.4px;border:1.1px solid #c4c4c4;background:#000;"></div>
<div style="position:absolute;left:689.9px;top:84.9px;width:41px;height:13.8px;background:#fff;"></div>
<div class="t" style="left:658.2px;top:85.6px;font-size:11px;line-height:11px;color:#f0f0f0;-webkit-text-stroke:0;transform:scaleX(1.03)">Quant</div>
<div class="t" style="left:690.6px;top:85.6px;font-size:11px;line-height:11px;color:#000;-webkit-text-stroke:0;font-weight:bold;letter-spacing:-0.3px;transform:scaleX(1.04)">Asylum</div>
<div class="t" style="left:667.5px;top:99.9px;font-size:9.8px;color:#e0e0e0;-webkit-text-stroke:0;transform:scaleX(0.85)">QA401 v1.924</div>

<!-- watermark -->
<div class="t" style="left:617px;top:468px;font-size:8.5px;line-height:10px;color:#4a5670;-webkit-text-stroke:0;letter-spacing:2.2px">www.HD-Club.tw</div>
<div class="t" style="left:603px;top:461px;font-size:16px;line-height:20px;color:#7e7e7e;-webkit-text-stroke:0.35px #7e7e7e;letter-spacing:0.6px">©www.HD-Club.tw</div>
</body></html>
